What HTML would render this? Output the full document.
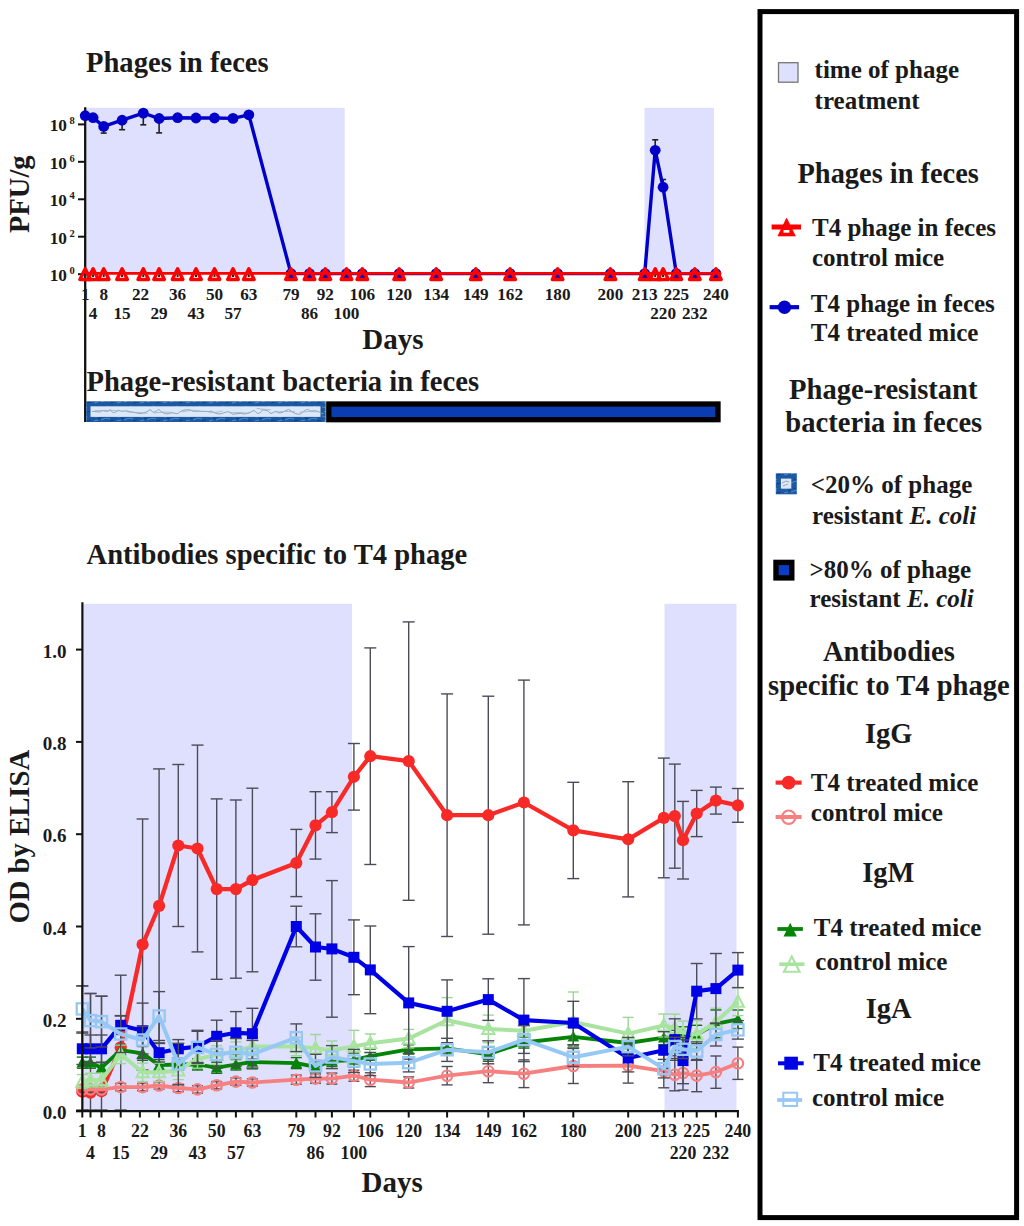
<!DOCTYPE html>
<html><head><meta charset="utf-8"><style>
html,body{margin:0;padding:0;background:#fff;}
svg{display:block;}
</style></head><body>
<svg width="1024" height="1226" viewBox="0 0 1024 1226">
<rect width="1024" height="1226" fill="#fff"/>
<rect x="86.3" y="107.8" width="258.4" height="165.5" fill="#dfdffe"/>
<rect x="644.5" y="107.8" width="69.5" height="165.5" fill="#dfdffe"/>
<text x="86" y="72.3" font-size="28.6" font-family="Liberation Serif" font-weight="bold" fill="#1a1a1a">Phages in feces</text>
<text transform="translate(29.3,233) rotate(-90)" font-size="28.5" font-family="Liberation Serif" font-weight="bold" fill="#1a1a1a">PFU/g</text>
<line x1="78" y1="274.2" x2="85" y2="274.2" stroke="#111" stroke-width="2"/>
<text x="67" y="281.1" font-size="17.3" font-family="Liberation Serif" font-weight="bold" fill="#1a1a1a" text-anchor="end">10</text>
<text x="69.6" y="274.0" font-size="10.5" font-family="Liberation Serif" font-weight="bold" fill="#1a1a1a">0</text>
<line x1="78" y1="236.7" x2="85" y2="236.7" stroke="#111" stroke-width="2"/>
<text x="67" y="243.6" font-size="17.3" font-family="Liberation Serif" font-weight="bold" fill="#1a1a1a" text-anchor="end">10</text>
<text x="69.6" y="236.5" font-size="10.5" font-family="Liberation Serif" font-weight="bold" fill="#1a1a1a">2</text>
<line x1="78" y1="199.3" x2="85" y2="199.3" stroke="#111" stroke-width="2"/>
<text x="67" y="206.2" font-size="17.3" font-family="Liberation Serif" font-weight="bold" fill="#1a1a1a" text-anchor="end">10</text>
<text x="69.6" y="199.1" font-size="10.5" font-family="Liberation Serif" font-weight="bold" fill="#1a1a1a">4</text>
<line x1="78" y1="161.8" x2="85" y2="161.8" stroke="#111" stroke-width="2"/>
<text x="67" y="168.7" font-size="17.3" font-family="Liberation Serif" font-weight="bold" fill="#1a1a1a" text-anchor="end">10</text>
<text x="69.6" y="161.6" font-size="10.5" font-family="Liberation Serif" font-weight="bold" fill="#1a1a1a">6</text>
<line x1="78" y1="124.4" x2="85" y2="124.4" stroke="#111" stroke-width="2"/>
<text x="67" y="131.3" font-size="17.3" font-family="Liberation Serif" font-weight="bold" fill="#1a1a1a" text-anchor="end">10</text>
<text x="69.6" y="124.2" font-size="10.5" font-family="Liberation Serif" font-weight="bold" fill="#1a1a1a">8</text>
<line x1="85.2" y1="107.3" x2="85.2" y2="422" stroke="#111" stroke-width="2.3"/>
<line x1="103.7" y1="126.4" x2="103.7" y2="133.1" stroke="#222" stroke-width="1.6"/>
<line x1="100.7" y1="133.1" x2="106.7" y2="133.1" stroke="#222" stroke-width="1.6"/>
<line x1="122.1" y1="120.2" x2="122.1" y2="129.7" stroke="#222" stroke-width="1.6"/>
<line x1="119.1" y1="129.7" x2="125.1" y2="129.7" stroke="#222" stroke-width="1.6"/>
<line x1="143.3" y1="113.1" x2="143.3" y2="124.8" stroke="#222" stroke-width="1.6"/>
<line x1="140.3" y1="124.8" x2="146.3" y2="124.8" stroke="#222" stroke-width="1.6"/>
<line x1="159.1" y1="118.5" x2="159.1" y2="132.9" stroke="#222" stroke-width="1.6"/>
<line x1="156.1" y1="132.9" x2="162.1" y2="132.9" stroke="#222" stroke-width="1.6"/>
<line x1="655.2" y1="150.3" x2="655.2" y2="139.8" stroke="#222" stroke-width="1.6"/>
<line x1="652.2" y1="139.8" x2="658.2" y2="139.8" stroke="#222" stroke-width="1.6"/>
<line x1="663.1" y1="187.2" x2="663.1" y2="179.5" stroke="#222" stroke-width="1.6"/>
<line x1="660.1" y1="179.5" x2="666.1" y2="179.5" stroke="#222" stroke-width="1.6"/>
<polyline points="85.2,115.7 93.1,117.7 103.7,126.4 122.1,120.2 143.3,113.1 159.1,118.5 177.6,117.7 196.0,118.0 214.5,118.0 233.0,118.4 248.8,114.8 291.0,273.6 309.5,273.6 325.3,273.6 346.5,273.6 362.3,273.6 399.2,273.6 436.2,273.6 475.8,273.6 510.1,273.6 557.6,273.6 610.4,273.6 644.7,273.6 655.2,150.3 663.1,187.2 676.3,273.6 694.8,273.6 715.9,273.6" fill="none" stroke="#0000c8" stroke-width="3.4" stroke-linejoin="round"/>
<circle cx="85.2" cy="115.7" r="5.4" fill="#0000c8"/>
<circle cx="93.1" cy="117.7" r="5.4" fill="#0000c8"/>
<circle cx="103.7" cy="126.4" r="5.4" fill="#0000c8"/>
<circle cx="122.1" cy="120.2" r="5.4" fill="#0000c8"/>
<circle cx="143.3" cy="113.1" r="5.4" fill="#0000c8"/>
<circle cx="159.1" cy="118.5" r="5.4" fill="#0000c8"/>
<circle cx="177.6" cy="117.7" r="5.4" fill="#0000c8"/>
<circle cx="196.0" cy="118.0" r="5.4" fill="#0000c8"/>
<circle cx="214.5" cy="118.0" r="5.4" fill="#0000c8"/>
<circle cx="233.0" cy="118.4" r="5.4" fill="#0000c8"/>
<circle cx="248.8" cy="114.8" r="5.4" fill="#0000c8"/>
<circle cx="291.0" cy="273.6" r="5.4" fill="#0000c8"/>
<circle cx="309.5" cy="273.6" r="5.4" fill="#0000c8"/>
<circle cx="325.3" cy="273.6" r="5.4" fill="#0000c8"/>
<circle cx="346.5" cy="273.6" r="5.4" fill="#0000c8"/>
<circle cx="362.3" cy="273.6" r="5.4" fill="#0000c8"/>
<circle cx="399.2" cy="273.6" r="5.4" fill="#0000c8"/>
<circle cx="436.2" cy="273.6" r="5.4" fill="#0000c8"/>
<circle cx="475.8" cy="273.6" r="5.4" fill="#0000c8"/>
<circle cx="510.1" cy="273.6" r="5.4" fill="#0000c8"/>
<circle cx="557.6" cy="273.6" r="5.4" fill="#0000c8"/>
<circle cx="610.4" cy="273.6" r="5.4" fill="#0000c8"/>
<circle cx="644.7" cy="273.6" r="5.4" fill="#0000c8"/>
<circle cx="655.2" cy="150.3" r="5.4" fill="#0000c8"/>
<circle cx="663.1" cy="187.2" r="5.4" fill="#0000c8"/>
<circle cx="676.3" cy="273.6" r="5.4" fill="#0000c8"/>
<circle cx="694.8" cy="273.6" r="5.4" fill="#0000c8"/>
<circle cx="715.9" cy="273.6" r="5.4" fill="#0000c8"/>
<line x1="85" y1="273.4" x2="721" y2="273.4" stroke="#f00" stroke-width="2.8"/>
<path d="M85.2,268.8 L90.5,279.5 L79.9,279.5 Z" fill="none" stroke="#f00" stroke-width="3.4" stroke-linejoin="round"/>
<rect x="84.2" y="274.6" width="2" height="2.4" fill="#222"/>
<path d="M93.1,268.8 L98.4,279.5 L87.8,279.5 Z" fill="none" stroke="#f00" stroke-width="3.4" stroke-linejoin="round"/>
<rect x="92.1" y="274.6" width="2" height="2.4" fill="#222"/>
<path d="M103.7,268.8 L109.0,279.5 L98.4,279.5 Z" fill="none" stroke="#f00" stroke-width="3.4" stroke-linejoin="round"/>
<rect x="102.7" y="274.6" width="2" height="2.4" fill="#222"/>
<path d="M122.1,268.8 L127.4,279.5 L116.8,279.5 Z" fill="none" stroke="#f00" stroke-width="3.4" stroke-linejoin="round"/>
<rect x="121.1" y="274.6" width="2" height="2.4" fill="#222"/>
<path d="M143.3,268.8 L148.6,279.5 L138.0,279.5 Z" fill="none" stroke="#f00" stroke-width="3.4" stroke-linejoin="round"/>
<rect x="142.3" y="274.6" width="2" height="2.4" fill="#222"/>
<path d="M159.1,268.8 L164.4,279.5 L153.8,279.5 Z" fill="none" stroke="#f00" stroke-width="3.4" stroke-linejoin="round"/>
<rect x="158.1" y="274.6" width="2" height="2.4" fill="#222"/>
<path d="M177.6,268.8 L182.9,279.5 L172.3,279.5 Z" fill="none" stroke="#f00" stroke-width="3.4" stroke-linejoin="round"/>
<rect x="176.6" y="274.6" width="2" height="2.4" fill="#222"/>
<path d="M196.0,268.8 L201.3,279.5 L190.7,279.5 Z" fill="none" stroke="#f00" stroke-width="3.4" stroke-linejoin="round"/>
<rect x="195.0" y="274.6" width="2" height="2.4" fill="#222"/>
<path d="M214.5,268.8 L219.8,279.5 L209.2,279.5 Z" fill="none" stroke="#f00" stroke-width="3.4" stroke-linejoin="round"/>
<rect x="213.5" y="274.6" width="2" height="2.4" fill="#222"/>
<path d="M233.0,268.8 L238.3,279.5 L227.7,279.5 Z" fill="none" stroke="#f00" stroke-width="3.4" stroke-linejoin="round"/>
<rect x="232.0" y="274.6" width="2" height="2.4" fill="#222"/>
<path d="M248.8,268.8 L254.1,279.5 L243.5,279.5 Z" fill="none" stroke="#f00" stroke-width="3.4" stroke-linejoin="round"/>
<rect x="247.8" y="274.6" width="2" height="2.4" fill="#222"/>
<path d="M291.0,268.8 L296.3,279.5 L285.7,279.5 Z" fill="none" stroke="#f00" stroke-width="3.4" stroke-linejoin="round"/>
<path d="M309.5,268.8 L314.8,279.5 L304.2,279.5 Z" fill="none" stroke="#f00" stroke-width="3.4" stroke-linejoin="round"/>
<path d="M325.3,268.8 L330.6,279.5 L320.0,279.5 Z" fill="none" stroke="#f00" stroke-width="3.4" stroke-linejoin="round"/>
<path d="M346.5,268.8 L351.8,279.5 L341.2,279.5 Z" fill="none" stroke="#f00" stroke-width="3.4" stroke-linejoin="round"/>
<path d="M362.3,268.8 L367.6,279.5 L357.0,279.5 Z" fill="none" stroke="#f00" stroke-width="3.4" stroke-linejoin="round"/>
<path d="M399.2,268.8 L404.5,279.5 L393.9,279.5 Z" fill="none" stroke="#f00" stroke-width="3.4" stroke-linejoin="round"/>
<path d="M436.2,268.8 L441.5,279.5 L430.9,279.5 Z" fill="none" stroke="#f00" stroke-width="3.4" stroke-linejoin="round"/>
<path d="M475.8,268.8 L481.1,279.5 L470.5,279.5 Z" fill="none" stroke="#f00" stroke-width="3.4" stroke-linejoin="round"/>
<path d="M510.1,268.8 L515.4,279.5 L504.8,279.5 Z" fill="none" stroke="#f00" stroke-width="3.4" stroke-linejoin="round"/>
<path d="M557.6,268.8 L562.9,279.5 L552.3,279.5 Z" fill="none" stroke="#f00" stroke-width="3.4" stroke-linejoin="round"/>
<path d="M610.4,268.8 L615.7,279.5 L605.1,279.5 Z" fill="none" stroke="#f00" stroke-width="3.4" stroke-linejoin="round"/>
<path d="M644.7,268.8 L650.0,279.5 L639.4,279.5 Z" fill="none" stroke="#f00" stroke-width="3.4" stroke-linejoin="round"/>
<path d="M655.2,268.8 L660.5,279.5 L649.9,279.5 Z" fill="none" stroke="#f00" stroke-width="3.4" stroke-linejoin="round"/>
<rect x="654.2" y="274.6" width="2" height="2.4" fill="#222"/>
<path d="M663.1,268.8 L668.4,279.5 L657.8,279.5 Z" fill="none" stroke="#f00" stroke-width="3.4" stroke-linejoin="round"/>
<rect x="662.1" y="274.6" width="2" height="2.4" fill="#222"/>
<path d="M676.3,268.8 L681.6,279.5 L671.0,279.5 Z" fill="none" stroke="#f00" stroke-width="3.4" stroke-linejoin="round"/>
<path d="M694.8,268.8 L700.1,279.5 L689.5,279.5 Z" fill="none" stroke="#f00" stroke-width="3.4" stroke-linejoin="round"/>
<path d="M715.9,268.8 L721.2,279.5 L710.6,279.5 Z" fill="none" stroke="#f00" stroke-width="3.4" stroke-linejoin="round"/>
<text x="85.2" y="299.8" font-size="17.2" font-family="Liberation Serif" font-weight="bold" fill="#1a1a1a" text-anchor="middle">1</text>
<text x="103.7" y="299.8" font-size="17.2" font-family="Liberation Serif" font-weight="bold" fill="#1a1a1a" text-anchor="middle">8</text>
<text x="140.6" y="299.8" font-size="17.2" font-family="Liberation Serif" font-weight="bold" fill="#1a1a1a" text-anchor="middle">22</text>
<text x="177.6" y="299.8" font-size="17.2" font-family="Liberation Serif" font-weight="bold" fill="#1a1a1a" text-anchor="middle">36</text>
<text x="214.5" y="299.8" font-size="17.2" font-family="Liberation Serif" font-weight="bold" fill="#1a1a1a" text-anchor="middle">50</text>
<text x="248.8" y="299.8" font-size="17.2" font-family="Liberation Serif" font-weight="bold" fill="#1a1a1a" text-anchor="middle">63</text>
<text x="291.0" y="299.8" font-size="17.2" font-family="Liberation Serif" font-weight="bold" fill="#1a1a1a" text-anchor="middle">79</text>
<text x="325.3" y="299.8" font-size="17.2" font-family="Liberation Serif" font-weight="bold" fill="#1a1a1a" text-anchor="middle">92</text>
<text x="362.3" y="299.8" font-size="17.2" font-family="Liberation Serif" font-weight="bold" fill="#1a1a1a" text-anchor="middle">106</text>
<text x="399.2" y="299.8" font-size="17.2" font-family="Liberation Serif" font-weight="bold" fill="#1a1a1a" text-anchor="middle">120</text>
<text x="436.2" y="299.8" font-size="17.2" font-family="Liberation Serif" font-weight="bold" fill="#1a1a1a" text-anchor="middle">134</text>
<text x="475.8" y="299.8" font-size="17.2" font-family="Liberation Serif" font-weight="bold" fill="#1a1a1a" text-anchor="middle">149</text>
<text x="510.1" y="299.8" font-size="17.2" font-family="Liberation Serif" font-weight="bold" fill="#1a1a1a" text-anchor="middle">162</text>
<text x="557.6" y="299.8" font-size="17.2" font-family="Liberation Serif" font-weight="bold" fill="#1a1a1a" text-anchor="middle">180</text>
<text x="610.4" y="299.8" font-size="17.2" font-family="Liberation Serif" font-weight="bold" fill="#1a1a1a" text-anchor="middle">200</text>
<text x="644.7" y="299.8" font-size="17.2" font-family="Liberation Serif" font-weight="bold" fill="#1a1a1a" text-anchor="middle">213</text>
<text x="676.3" y="299.8" font-size="17.2" font-family="Liberation Serif" font-weight="bold" fill="#1a1a1a" text-anchor="middle">225</text>
<text x="715.9" y="299.8" font-size="17.2" font-family="Liberation Serif" font-weight="bold" fill="#1a1a1a" text-anchor="middle">240</text>
<text x="93.1" y="319.3" font-size="17.2" font-family="Liberation Serif" font-weight="bold" fill="#1a1a1a" text-anchor="middle">4</text>
<text x="122.1" y="319.3" font-size="17.2" font-family="Liberation Serif" font-weight="bold" fill="#1a1a1a" text-anchor="middle">15</text>
<text x="159.1" y="319.3" font-size="17.2" font-family="Liberation Serif" font-weight="bold" fill="#1a1a1a" text-anchor="middle">29</text>
<text x="196.0" y="319.3" font-size="17.2" font-family="Liberation Serif" font-weight="bold" fill="#1a1a1a" text-anchor="middle">43</text>
<text x="233.0" y="319.3" font-size="17.2" font-family="Liberation Serif" font-weight="bold" fill="#1a1a1a" text-anchor="middle">57</text>
<text x="309.5" y="319.3" font-size="17.2" font-family="Liberation Serif" font-weight="bold" fill="#1a1a1a" text-anchor="middle">86</text>
<text x="346.5" y="319.3" font-size="17.2" font-family="Liberation Serif" font-weight="bold" fill="#1a1a1a" text-anchor="middle">100</text>
<text x="663.1" y="319.3" font-size="17.2" font-family="Liberation Serif" font-weight="bold" fill="#1a1a1a" text-anchor="middle">220</text>
<text x="694.8" y="319.3" font-size="17.2" font-family="Liberation Serif" font-weight="bold" fill="#1a1a1a" text-anchor="middle">232</text>
<text x="362.2" y="348.6" font-size="29" font-family="Liberation Serif" font-weight="bold" fill="#1a1a1a">Days</text>
<text x="86.5" y="391" font-size="28.6" font-family="Liberation Serif" font-weight="bold" fill="#1a1a1a">Phage-resistant bacteria in feces</text>
<defs><pattern id="mott" x="0" y="0" width="23" height="9" patternUnits="userSpaceOnUse"><rect width="23" height="9" fill="#1d58a2"/><path d="M0,2 l4,1 l3,-1 M9,6 l5,-2 l4,1 M15,1 l3,2 M2,7 l4,-1" stroke="#4c86c6" stroke-width="1.1" fill="none"/><path d="M6,4 l3,1 M18,7 l4,-1 M12,2 l2,1" stroke="#0f3f80" stroke-width="1" fill="none"/></pattern></defs>
<rect x="86.2" y="401.3" width="239.5" height="20.7" fill="url(#mott)"/>
<rect x="90.5" y="406.3" width="230" height="10.6" fill="#dbe9f8"/>
<path d="M92.0,411.5 C94.7,410.9 97.4,412.4 100.2,411.9 C103.5,408.6 106.9,413.9 110.3,409.5 C113.1,415.0 115.8,411.6 118.6,410.4 C122.3,412.7 126.0,409.5 129.8,411.6 C133.2,411.9 136.5,413.3 140.0,413.5 C143.4,413.4 146.8,412.3 150.3,409.5 C153.1,414.1 155.9,411.6 158.8,409.4 C162.3,413.1 165.8,414.5 169.4,413.6 C172.4,411.4 175.4,414.6 178.4,413.2 C182.2,409.4 185.9,409.9 189.8,409.7 C193.7,412.6 197.6,410.5 201.6,411.4 C204.8,410.8 207.9,412.3 211.2,411.1 C214.4,412.9 217.7,414.5 221.1,413.7 C224.8,412.9 228.5,409.6 232.4,414.2 C236.1,414.4 239.8,412.2 243.7,414.0 C247.2,413.9 250.6,412.2 254.2,410.3 C257.0,414.1 259.8,414.9 262.7,409.5 C265.1,411.2 267.6,409.5 270.1,413.2 C272.9,414.2 275.7,408.8 278.6,413.0 C281.9,413.2 285.2,410.7 288.6,409.4 C292.4,411.8 296.2,415.0 300.1,414.1 C302.9,412.4 305.7,408.7 308.6,409.6 C311.2,412.5 313.9,409.5 316.6,411.2 C319.0,410.5 321.3,414.7 323.8,413.5" fill="none" stroke="#8c98ac" stroke-width="0.9"/>
<path d="M95.0,410.6 q12.4,-0.2 24.8,0.1 M126.6,411.9 q10.6,0.7 21.1,1.3 M153.8,413.0 q9.6,-1.6 19.2,-0.6 M181.9,411.8 q10.1,-2.9 20.3,-0.3 M208.6,412.3 q7.1,0.8 14.2,-1.3 M229.6,412.8 q9.8,-0.9 19.6,0.6 M256.6,408.4 q7.1,1.1 14.3,1.4 M275.4,412.1 q9.7,-1.1 19.5,-0.4 M299.7,412.2 q9.2,-1.2 18.4,-0.4 " fill="none" stroke="#a4b0c2" stroke-width="0.8"/>
<rect x="328.8" y="404" width="389.2" height="15.7" fill="#0b3cb2" stroke="#000" stroke-width="5.3"/>
<rect x="83.5" y="603.8" width="268.5" height="506.3" fill="#dfdffe"/>
<rect x="664.5" y="603.8" width="72" height="506.3" fill="#dfdffe"/>
<text x="86.5" y="563.5" font-size="28.6" font-family="Liberation Serif" font-weight="bold" fill="#1a1a1a">Antibodies specific to T4 phage</text>
<text transform="translate(29,923.6) rotate(-90)" font-size="28.7" font-family="Liberation Serif" font-weight="bold" fill="#1a1a1a">OD by ELISA</text>
<line x1="76" y1="1111.1" x2="82" y2="1111.1" stroke="#111" stroke-width="2"/>
<text x="66.4" y="1119.3" font-size="19" font-family="Liberation Serif" font-weight="bold" fill="#1a1a1a" text-anchor="end">0.0</text>
<line x1="76" y1="1018.8" x2="82" y2="1018.8" stroke="#111" stroke-width="2"/>
<text x="66.4" y="1027.0" font-size="19" font-family="Liberation Serif" font-weight="bold" fill="#1a1a1a" text-anchor="end">0.2</text>
<line x1="76" y1="926.5" x2="82" y2="926.5" stroke="#111" stroke-width="2"/>
<text x="66.4" y="934.7" font-size="19" font-family="Liberation Serif" font-weight="bold" fill="#1a1a1a" text-anchor="end">0.4</text>
<line x1="76" y1="834.2" x2="82" y2="834.2" stroke="#111" stroke-width="2"/>
<text x="66.4" y="842.4" font-size="19" font-family="Liberation Serif" font-weight="bold" fill="#1a1a1a" text-anchor="end">0.6</text>
<line x1="76" y1="741.9" x2="82" y2="741.9" stroke="#111" stroke-width="2"/>
<text x="66.4" y="750.1" font-size="19" font-family="Liberation Serif" font-weight="bold" fill="#1a1a1a" text-anchor="end">0.8</text>
<line x1="76" y1="649.6" x2="82" y2="649.6" stroke="#111" stroke-width="2"/>
<text x="66.4" y="657.8" font-size="19" font-family="Liberation Serif" font-weight="bold" fill="#1a1a1a" text-anchor="end">1.0</text>
<line x1="82.3" y1="1111" x2="82.3" y2="1117.5" stroke="#111" stroke-width="2"/>
<line x1="90.5" y1="1111" x2="90.5" y2="1117.5" stroke="#111" stroke-width="2"/>
<line x1="101.5" y1="1111" x2="101.5" y2="1117.5" stroke="#111" stroke-width="2"/>
<line x1="120.7" y1="1111" x2="120.7" y2="1117.5" stroke="#111" stroke-width="2"/>
<line x1="139.9" y1="1111" x2="139.9" y2="1117.5" stroke="#111" stroke-width="2"/>
<line x1="159.1" y1="1111" x2="159.1" y2="1117.5" stroke="#111" stroke-width="2"/>
<line x1="178.3" y1="1111" x2="178.3" y2="1117.5" stroke="#111" stroke-width="2"/>
<line x1="197.5" y1="1111" x2="197.5" y2="1117.5" stroke="#111" stroke-width="2"/>
<line x1="216.7" y1="1111" x2="216.7" y2="1117.5" stroke="#111" stroke-width="2"/>
<line x1="235.9" y1="1111" x2="235.9" y2="1117.5" stroke="#111" stroke-width="2"/>
<line x1="252.4" y1="1111" x2="252.4" y2="1117.5" stroke="#111" stroke-width="2"/>
<line x1="296.3" y1="1111" x2="296.3" y2="1117.5" stroke="#111" stroke-width="2"/>
<line x1="315.5" y1="1111" x2="315.5" y2="1117.5" stroke="#111" stroke-width="2"/>
<line x1="331.9" y1="1111" x2="331.9" y2="1117.5" stroke="#111" stroke-width="2"/>
<line x1="353.9" y1="1111" x2="353.9" y2="1117.5" stroke="#111" stroke-width="2"/>
<line x1="370.3" y1="1111" x2="370.3" y2="1117.5" stroke="#111" stroke-width="2"/>
<line x1="408.7" y1="1111" x2="408.7" y2="1117.5" stroke="#111" stroke-width="2"/>
<line x1="447.1" y1="1111" x2="447.1" y2="1117.5" stroke="#111" stroke-width="2"/>
<line x1="488.3" y1="1111" x2="488.3" y2="1117.5" stroke="#111" stroke-width="2"/>
<line x1="523.9" y1="1111" x2="523.9" y2="1117.5" stroke="#111" stroke-width="2"/>
<line x1="573.3" y1="1111" x2="573.3" y2="1117.5" stroke="#111" stroke-width="2"/>
<line x1="628.2" y1="1111" x2="628.2" y2="1117.5" stroke="#111" stroke-width="2"/>
<line x1="663.8" y1="1111" x2="663.8" y2="1117.5" stroke="#111" stroke-width="2"/>
<line x1="674.8" y1="1111" x2="674.8" y2="1117.5" stroke="#111" stroke-width="2"/>
<line x1="683.0" y1="1111" x2="683.0" y2="1117.5" stroke="#111" stroke-width="2"/>
<line x1="696.7" y1="1111" x2="696.7" y2="1117.5" stroke="#111" stroke-width="2"/>
<line x1="715.9" y1="1111" x2="715.9" y2="1117.5" stroke="#111" stroke-width="2"/>
<line x1="737.9" y1="1111" x2="737.9" y2="1117.5" stroke="#111" stroke-width="2"/>
<text x="82.3" y="1137" font-size="17.8" font-family="Liberation Serif" font-weight="bold" fill="#1a1a1a" text-anchor="middle">1</text>
<text x="101.5" y="1137" font-size="17.8" font-family="Liberation Serif" font-weight="bold" fill="#1a1a1a" text-anchor="middle">8</text>
<text x="139.9" y="1137" font-size="17.8" font-family="Liberation Serif" font-weight="bold" fill="#1a1a1a" text-anchor="middle">22</text>
<text x="178.3" y="1137" font-size="17.8" font-family="Liberation Serif" font-weight="bold" fill="#1a1a1a" text-anchor="middle">36</text>
<text x="216.7" y="1137" font-size="17.8" font-family="Liberation Serif" font-weight="bold" fill="#1a1a1a" text-anchor="middle">50</text>
<text x="252.4" y="1137" font-size="17.8" font-family="Liberation Serif" font-weight="bold" fill="#1a1a1a" text-anchor="middle">63</text>
<text x="296.3" y="1137" font-size="17.8" font-family="Liberation Serif" font-weight="bold" fill="#1a1a1a" text-anchor="middle">79</text>
<text x="331.9" y="1137" font-size="17.8" font-family="Liberation Serif" font-weight="bold" fill="#1a1a1a" text-anchor="middle">92</text>
<text x="370.3" y="1137" font-size="17.8" font-family="Liberation Serif" font-weight="bold" fill="#1a1a1a" text-anchor="middle">106</text>
<text x="408.7" y="1137" font-size="17.8" font-family="Liberation Serif" font-weight="bold" fill="#1a1a1a" text-anchor="middle">120</text>
<text x="447.1" y="1137" font-size="17.8" font-family="Liberation Serif" font-weight="bold" fill="#1a1a1a" text-anchor="middle">134</text>
<text x="488.3" y="1137" font-size="17.8" font-family="Liberation Serif" font-weight="bold" fill="#1a1a1a" text-anchor="middle">149</text>
<text x="523.9" y="1137" font-size="17.8" font-family="Liberation Serif" font-weight="bold" fill="#1a1a1a" text-anchor="middle">162</text>
<text x="573.3" y="1137" font-size="17.8" font-family="Liberation Serif" font-weight="bold" fill="#1a1a1a" text-anchor="middle">180</text>
<text x="628.2" y="1137" font-size="17.8" font-family="Liberation Serif" font-weight="bold" fill="#1a1a1a" text-anchor="middle">200</text>
<text x="663.8" y="1137" font-size="17.8" font-family="Liberation Serif" font-weight="bold" fill="#1a1a1a" text-anchor="middle">213</text>
<text x="696.7" y="1137" font-size="17.8" font-family="Liberation Serif" font-weight="bold" fill="#1a1a1a" text-anchor="middle">225</text>
<text x="737.9" y="1137" font-size="17.8" font-family="Liberation Serif" font-weight="bold" fill="#1a1a1a" text-anchor="middle">240</text>
<text x="90.5" y="1158.8" font-size="17.8" font-family="Liberation Serif" font-weight="bold" fill="#1a1a1a" text-anchor="middle">4</text>
<text x="120.7" y="1158.8" font-size="17.8" font-family="Liberation Serif" font-weight="bold" fill="#1a1a1a" text-anchor="middle">15</text>
<text x="159.1" y="1158.8" font-size="17.8" font-family="Liberation Serif" font-weight="bold" fill="#1a1a1a" text-anchor="middle">29</text>
<text x="197.5" y="1158.8" font-size="17.8" font-family="Liberation Serif" font-weight="bold" fill="#1a1a1a" text-anchor="middle">43</text>
<text x="235.9" y="1158.8" font-size="17.8" font-family="Liberation Serif" font-weight="bold" fill="#1a1a1a" text-anchor="middle">57</text>
<text x="315.5" y="1158.8" font-size="17.8" font-family="Liberation Serif" font-weight="bold" fill="#1a1a1a" text-anchor="middle">86</text>
<text x="353.9" y="1158.8" font-size="17.8" font-family="Liberation Serif" font-weight="bold" fill="#1a1a1a" text-anchor="middle">100</text>
<text x="683.0" y="1158.8" font-size="17.8" font-family="Liberation Serif" font-weight="bold" fill="#1a1a1a" text-anchor="middle">220</text>
<text x="715.9" y="1158.8" font-size="17.8" font-family="Liberation Serif" font-weight="bold" fill="#1a1a1a" text-anchor="middle">232</text>
<text x="361.6" y="1191.6" font-size="29" font-family="Liberation Serif" font-weight="bold" fill="#1a1a1a">Days</text>
<line x1="82.3" y1="986.0" x2="82.3" y2="1110.0" stroke="#4c4c58" stroke-width="1.4"/>
<line x1="76.3" y1="986.0" x2="88.3" y2="986.0" stroke="#4c4c58" stroke-width="1.4"/>
<line x1="76.3" y1="1110.0" x2="88.3" y2="1110.0" stroke="#4c4c58" stroke-width="1.4"/>
<line x1="90.5" y1="993.6" x2="90.5" y2="1110.0" stroke="#4c4c58" stroke-width="1.4"/>
<line x1="84.5" y1="993.6" x2="96.5" y2="993.6" stroke="#4c4c58" stroke-width="1.4"/>
<line x1="84.5" y1="1110.0" x2="96.5" y2="1110.0" stroke="#4c4c58" stroke-width="1.4"/>
<line x1="101.5" y1="996.2" x2="101.5" y2="1110.0" stroke="#4c4c58" stroke-width="1.4"/>
<line x1="95.5" y1="996.2" x2="107.5" y2="996.2" stroke="#4c4c58" stroke-width="1.4"/>
<line x1="95.5" y1="1110.0" x2="107.5" y2="1110.0" stroke="#4c4c58" stroke-width="1.4"/>
<line x1="120.7" y1="975.2" x2="120.7" y2="1110.0" stroke="#4c4c58" stroke-width="1.4"/>
<line x1="114.7" y1="975.2" x2="126.7" y2="975.2" stroke="#4c4c58" stroke-width="1.4"/>
<line x1="114.7" y1="1110.0" x2="126.7" y2="1110.0" stroke="#4c4c58" stroke-width="1.4"/>
<line x1="142.6" y1="819.0" x2="142.6" y2="1070.0" stroke="#4c4c58" stroke-width="1.4"/>
<line x1="136.6" y1="819.0" x2="148.6" y2="819.0" stroke="#4c4c58" stroke-width="1.4"/>
<line x1="136.6" y1="1070.0" x2="148.6" y2="1070.0" stroke="#4c4c58" stroke-width="1.4"/>
<line x1="159.1" y1="768.9" x2="159.1" y2="1042.9" stroke="#4c4c58" stroke-width="1.4"/>
<line x1="153.1" y1="768.9" x2="165.1" y2="768.9" stroke="#4c4c58" stroke-width="1.4"/>
<line x1="153.1" y1="1042.9" x2="165.1" y2="1042.9" stroke="#4c4c58" stroke-width="1.4"/>
<line x1="178.3" y1="764.5" x2="178.3" y2="926.5" stroke="#4c4c58" stroke-width="1.4"/>
<line x1="172.3" y1="764.5" x2="184.3" y2="764.5" stroke="#4c4c58" stroke-width="1.4"/>
<line x1="172.3" y1="926.5" x2="184.3" y2="926.5" stroke="#4c4c58" stroke-width="1.4"/>
<line x1="197.5" y1="745.1" x2="197.5" y2="951.9" stroke="#4c4c58" stroke-width="1.4"/>
<line x1="191.5" y1="745.1" x2="203.5" y2="745.1" stroke="#4c4c58" stroke-width="1.4"/>
<line x1="191.5" y1="951.9" x2="203.5" y2="951.9" stroke="#4c4c58" stroke-width="1.4"/>
<line x1="216.7" y1="798.9" x2="216.7" y2="979.3" stroke="#4c4c58" stroke-width="1.4"/>
<line x1="210.7" y1="798.9" x2="222.7" y2="798.9" stroke="#4c4c58" stroke-width="1.4"/>
<line x1="210.7" y1="979.3" x2="222.7" y2="979.3" stroke="#4c4c58" stroke-width="1.4"/>
<line x1="235.9" y1="800.0" x2="235.9" y2="978.2" stroke="#4c4c58" stroke-width="1.4"/>
<line x1="229.9" y1="800.0" x2="241.9" y2="800.0" stroke="#4c4c58" stroke-width="1.4"/>
<line x1="229.9" y1="978.2" x2="241.9" y2="978.2" stroke="#4c4c58" stroke-width="1.4"/>
<line x1="252.4" y1="788.2" x2="252.4" y2="971.8" stroke="#4c4c58" stroke-width="1.4"/>
<line x1="246.4" y1="788.2" x2="258.4" y2="788.2" stroke="#4c4c58" stroke-width="1.4"/>
<line x1="246.4" y1="971.8" x2="258.4" y2="971.8" stroke="#4c4c58" stroke-width="1.4"/>
<line x1="296.3" y1="829.4" x2="296.3" y2="896.6" stroke="#4c4c58" stroke-width="1.4"/>
<line x1="290.3" y1="829.4" x2="302.3" y2="829.4" stroke="#4c4c58" stroke-width="1.4"/>
<line x1="290.3" y1="896.6" x2="302.3" y2="896.6" stroke="#4c4c58" stroke-width="1.4"/>
<line x1="315.5" y1="791.7" x2="315.5" y2="859.1" stroke="#4c4c58" stroke-width="1.4"/>
<line x1="309.5" y1="791.7" x2="321.5" y2="791.7" stroke="#4c4c58" stroke-width="1.4"/>
<line x1="309.5" y1="859.1" x2="321.5" y2="859.1" stroke="#4c4c58" stroke-width="1.4"/>
<line x1="331.9" y1="791.7" x2="331.9" y2="832.6" stroke="#4c4c58" stroke-width="1.4"/>
<line x1="325.9" y1="791.7" x2="337.9" y2="791.7" stroke="#4c4c58" stroke-width="1.4"/>
<line x1="325.9" y1="832.6" x2="337.9" y2="832.6" stroke="#4c4c58" stroke-width="1.4"/>
<line x1="353.9" y1="743.5" x2="353.9" y2="810.1" stroke="#4c4c58" stroke-width="1.4"/>
<line x1="347.9" y1="743.5" x2="359.9" y2="743.5" stroke="#4c4c58" stroke-width="1.4"/>
<line x1="347.9" y1="810.1" x2="359.9" y2="810.1" stroke="#4c4c58" stroke-width="1.4"/>
<line x1="370.3" y1="647.9" x2="370.3" y2="864.5" stroke="#4c4c58" stroke-width="1.4"/>
<line x1="364.3" y1="647.9" x2="376.3" y2="647.9" stroke="#4c4c58" stroke-width="1.4"/>
<line x1="364.3" y1="864.5" x2="376.3" y2="864.5" stroke="#4c4c58" stroke-width="1.4"/>
<line x1="408.7" y1="621.9" x2="408.7" y2="900.3" stroke="#4c4c58" stroke-width="1.4"/>
<line x1="402.7" y1="621.9" x2="414.7" y2="621.9" stroke="#4c4c58" stroke-width="1.4"/>
<line x1="402.7" y1="900.3" x2="414.7" y2="900.3" stroke="#4c4c58" stroke-width="1.4"/>
<line x1="447.1" y1="693.9" x2="447.1" y2="936.5" stroke="#4c4c58" stroke-width="1.4"/>
<line x1="441.1" y1="693.9" x2="453.1" y2="693.9" stroke="#4c4c58" stroke-width="1.4"/>
<line x1="441.1" y1="936.5" x2="453.1" y2="936.5" stroke="#4c4c58" stroke-width="1.4"/>
<line x1="488.3" y1="696.2" x2="488.3" y2="934.2" stroke="#4c4c58" stroke-width="1.4"/>
<line x1="482.3" y1="696.2" x2="494.3" y2="696.2" stroke="#4c4c58" stroke-width="1.4"/>
<line x1="482.3" y1="934.2" x2="494.3" y2="934.2" stroke="#4c4c58" stroke-width="1.4"/>
<line x1="523.9" y1="680.1" x2="523.9" y2="924.9" stroke="#4c4c58" stroke-width="1.4"/>
<line x1="517.9" y1="680.1" x2="529.9" y2="680.1" stroke="#4c4c58" stroke-width="1.4"/>
<line x1="517.9" y1="924.9" x2="529.9" y2="924.9" stroke="#4c4c58" stroke-width="1.4"/>
<line x1="573.3" y1="782.3" x2="573.3" y2="878.6" stroke="#4c4c58" stroke-width="1.4"/>
<line x1="567.3" y1="782.3" x2="579.3" y2="782.3" stroke="#4c4c58" stroke-width="1.4"/>
<line x1="567.3" y1="878.6" x2="579.3" y2="878.6" stroke="#4c4c58" stroke-width="1.4"/>
<line x1="628.2" y1="781.7" x2="628.2" y2="896.9" stroke="#4c4c58" stroke-width="1.4"/>
<line x1="622.2" y1="781.7" x2="634.2" y2="781.7" stroke="#4c4c58" stroke-width="1.4"/>
<line x1="622.2" y1="896.9" x2="634.2" y2="896.9" stroke="#4c4c58" stroke-width="1.4"/>
<line x1="663.8" y1="758.1" x2="663.8" y2="877.8" stroke="#4c4c58" stroke-width="1.4"/>
<line x1="657.8" y1="758.1" x2="669.8" y2="758.1" stroke="#4c4c58" stroke-width="1.4"/>
<line x1="657.8" y1="877.8" x2="669.8" y2="877.8" stroke="#4c4c58" stroke-width="1.4"/>
<line x1="674.8" y1="764.1" x2="674.8" y2="868.2" stroke="#4c4c58" stroke-width="1.4"/>
<line x1="668.8" y1="764.1" x2="680.8" y2="764.1" stroke="#4c4c58" stroke-width="1.4"/>
<line x1="668.8" y1="868.2" x2="680.8" y2="868.2" stroke="#4c4c58" stroke-width="1.4"/>
<line x1="683.0" y1="801.4" x2="683.0" y2="879.0" stroke="#4c4c58" stroke-width="1.4"/>
<line x1="677.0" y1="801.4" x2="689.0" y2="801.4" stroke="#4c4c58" stroke-width="1.4"/>
<line x1="677.0" y1="879.0" x2="689.0" y2="879.0" stroke="#4c4c58" stroke-width="1.4"/>
<line x1="696.7" y1="790.4" x2="696.7" y2="836.6" stroke="#4c4c58" stroke-width="1.4"/>
<line x1="690.7" y1="790.4" x2="702.7" y2="790.4" stroke="#4c4c58" stroke-width="1.4"/>
<line x1="690.7" y1="836.6" x2="702.7" y2="836.6" stroke="#4c4c58" stroke-width="1.4"/>
<line x1="715.9" y1="787.1" x2="715.9" y2="814.1" stroke="#4c4c58" stroke-width="1.4"/>
<line x1="709.9" y1="787.1" x2="721.9" y2="787.1" stroke="#4c4c58" stroke-width="1.4"/>
<line x1="709.9" y1="814.1" x2="721.9" y2="814.1" stroke="#4c4c58" stroke-width="1.4"/>
<line x1="737.9" y1="788.5" x2="737.9" y2="822.3" stroke="#4c4c58" stroke-width="1.4"/>
<line x1="731.9" y1="788.5" x2="743.9" y2="788.5" stroke="#4c4c58" stroke-width="1.4"/>
<line x1="731.9" y1="822.3" x2="743.9" y2="822.3" stroke="#4c4c58" stroke-width="1.4"/>
<polyline points="82.3,1091.7 90.5,1092.6 101.5,1091.3 120.7,1047.4 142.6,944.5 159.1,905.9 178.3,845.5 197.5,848.5 216.7,889.1 235.9,889.1 252.4,880.0 296.3,863.0 315.5,825.4 331.9,812.2 353.9,776.8 370.3,756.2 408.7,761.1 447.1,815.2 488.3,815.2 523.9,802.5 573.3,830.4 628.2,839.3 663.8,817.9 674.8,816.1 683.0,840.2 696.7,813.5 715.9,800.6 737.9,805.4" fill="none" stroke="#f82a28" stroke-width="4.3" stroke-linejoin="round"/>
<circle cx="82.3" cy="1091.7" r="6.1" fill="#f82a28"/>
<circle cx="90.5" cy="1092.6" r="6.1" fill="#f82a28"/>
<circle cx="101.5" cy="1091.3" r="6.1" fill="#f82a28"/>
<circle cx="120.7" cy="1047.4" r="6.1" fill="#f82a28"/>
<circle cx="142.6" cy="944.5" r="6.1" fill="#f82a28"/>
<circle cx="159.1" cy="905.9" r="6.1" fill="#f82a28"/>
<circle cx="178.3" cy="845.5" r="6.1" fill="#f82a28"/>
<circle cx="197.5" cy="848.5" r="6.1" fill="#f82a28"/>
<circle cx="216.7" cy="889.1" r="6.1" fill="#f82a28"/>
<circle cx="235.9" cy="889.1" r="6.1" fill="#f82a28"/>
<circle cx="252.4" cy="880.0" r="6.1" fill="#f82a28"/>
<circle cx="296.3" cy="863.0" r="6.1" fill="#f82a28"/>
<circle cx="315.5" cy="825.4" r="6.1" fill="#f82a28"/>
<circle cx="331.9" cy="812.2" r="6.1" fill="#f82a28"/>
<circle cx="353.9" cy="776.8" r="6.1" fill="#f82a28"/>
<circle cx="370.3" cy="756.2" r="6.1" fill="#f82a28"/>
<circle cx="408.7" cy="761.1" r="6.1" fill="#f82a28"/>
<circle cx="447.1" cy="815.2" r="6.1" fill="#f82a28"/>
<circle cx="488.3" cy="815.2" r="6.1" fill="#f82a28"/>
<circle cx="523.9" cy="802.5" r="6.1" fill="#f82a28"/>
<circle cx="573.3" cy="830.4" r="6.1" fill="#f82a28"/>
<circle cx="628.2" cy="839.3" r="6.1" fill="#f82a28"/>
<circle cx="663.8" cy="817.9" r="6.1" fill="#f82a28"/>
<circle cx="674.8" cy="816.1" r="6.1" fill="#f82a28"/>
<circle cx="683.0" cy="840.2" r="6.1" fill="#f82a28"/>
<circle cx="696.7" cy="813.5" r="6.1" fill="#f82a28"/>
<circle cx="715.9" cy="800.6" r="6.1" fill="#f82a28"/>
<circle cx="737.9" cy="805.4" r="6.1" fill="#f82a28"/>
<line x1="82.3" y1="1085.7" x2="82.3" y2="1093.1" stroke="#4c4c58" stroke-width="1.4"/>
<line x1="76.8" y1="1085.7" x2="87.8" y2="1085.7" stroke="#4c4c58" stroke-width="1.4"/>
<line x1="76.8" y1="1093.1" x2="87.8" y2="1093.1" stroke="#4c4c58" stroke-width="1.4"/>
<line x1="90.5" y1="1085.7" x2="90.5" y2="1093.1" stroke="#4c4c58" stroke-width="1.4"/>
<line x1="85.0" y1="1085.7" x2="96.0" y2="1085.7" stroke="#4c4c58" stroke-width="1.4"/>
<line x1="85.0" y1="1093.1" x2="96.0" y2="1093.1" stroke="#4c4c58" stroke-width="1.4"/>
<line x1="101.5" y1="1085.7" x2="101.5" y2="1093.1" stroke="#4c4c58" stroke-width="1.4"/>
<line x1="96.0" y1="1085.7" x2="107.0" y2="1085.7" stroke="#4c4c58" stroke-width="1.4"/>
<line x1="96.0" y1="1093.1" x2="107.0" y2="1093.1" stroke="#4c4c58" stroke-width="1.4"/>
<line x1="120.7" y1="1083.4" x2="120.7" y2="1090.8" stroke="#4c4c58" stroke-width="1.4"/>
<line x1="115.2" y1="1083.4" x2="126.2" y2="1083.4" stroke="#4c4c58" stroke-width="1.4"/>
<line x1="115.2" y1="1090.8" x2="126.2" y2="1090.8" stroke="#4c4c58" stroke-width="1.4"/>
<line x1="142.6" y1="1083.4" x2="142.6" y2="1090.8" stroke="#4c4c58" stroke-width="1.4"/>
<line x1="137.1" y1="1083.4" x2="148.1" y2="1083.4" stroke="#4c4c58" stroke-width="1.4"/>
<line x1="137.1" y1="1090.8" x2="148.1" y2="1090.8" stroke="#4c4c58" stroke-width="1.4"/>
<line x1="159.1" y1="1081.8" x2="159.1" y2="1089.2" stroke="#4c4c58" stroke-width="1.4"/>
<line x1="153.6" y1="1081.8" x2="164.6" y2="1081.8" stroke="#4c4c58" stroke-width="1.4"/>
<line x1="153.6" y1="1089.2" x2="164.6" y2="1089.2" stroke="#4c4c58" stroke-width="1.4"/>
<line x1="178.3" y1="1084.3" x2="178.3" y2="1091.7" stroke="#4c4c58" stroke-width="1.4"/>
<line x1="172.8" y1="1084.3" x2="183.8" y2="1084.3" stroke="#4c4c58" stroke-width="1.4"/>
<line x1="172.8" y1="1091.7" x2="183.8" y2="1091.7" stroke="#4c4c58" stroke-width="1.4"/>
<line x1="197.5" y1="1085.7" x2="197.5" y2="1093.1" stroke="#4c4c58" stroke-width="1.4"/>
<line x1="192.0" y1="1085.7" x2="203.0" y2="1085.7" stroke="#4c4c58" stroke-width="1.4"/>
<line x1="192.0" y1="1093.1" x2="203.0" y2="1093.1" stroke="#4c4c58" stroke-width="1.4"/>
<line x1="216.7" y1="1081.6" x2="216.7" y2="1088.9" stroke="#4c4c58" stroke-width="1.4"/>
<line x1="211.2" y1="1081.6" x2="222.2" y2="1081.6" stroke="#4c4c58" stroke-width="1.4"/>
<line x1="211.2" y1="1088.9" x2="222.2" y2="1088.9" stroke="#4c4c58" stroke-width="1.4"/>
<line x1="235.9" y1="1077.9" x2="235.9" y2="1085.3" stroke="#4c4c58" stroke-width="1.4"/>
<line x1="230.4" y1="1077.9" x2="241.4" y2="1077.9" stroke="#4c4c58" stroke-width="1.4"/>
<line x1="230.4" y1="1085.3" x2="241.4" y2="1085.3" stroke="#4c4c58" stroke-width="1.4"/>
<line x1="252.4" y1="1078.8" x2="252.4" y2="1086.2" stroke="#4c4c58" stroke-width="1.4"/>
<line x1="246.9" y1="1078.8" x2="257.9" y2="1078.8" stroke="#4c4c58" stroke-width="1.4"/>
<line x1="246.9" y1="1086.2" x2="257.9" y2="1086.2" stroke="#4c4c58" stroke-width="1.4"/>
<line x1="296.3" y1="1075.1" x2="296.3" y2="1084.3" stroke="#4c4c58" stroke-width="1.4"/>
<line x1="290.8" y1="1075.1" x2="301.8" y2="1075.1" stroke="#4c4c58" stroke-width="1.4"/>
<line x1="290.8" y1="1084.3" x2="301.8" y2="1084.3" stroke="#4c4c58" stroke-width="1.4"/>
<line x1="315.5" y1="1074.0" x2="315.5" y2="1083.2" stroke="#4c4c58" stroke-width="1.4"/>
<line x1="310.0" y1="1074.0" x2="321.0" y2="1074.0" stroke="#4c4c58" stroke-width="1.4"/>
<line x1="310.0" y1="1083.2" x2="321.0" y2="1083.2" stroke="#4c4c58" stroke-width="1.4"/>
<line x1="331.9" y1="1073.1" x2="331.9" y2="1084.1" stroke="#4c4c58" stroke-width="1.4"/>
<line x1="326.4" y1="1073.1" x2="337.4" y2="1073.1" stroke="#4c4c58" stroke-width="1.4"/>
<line x1="326.4" y1="1084.1" x2="337.4" y2="1084.1" stroke="#4c4c58" stroke-width="1.4"/>
<line x1="353.9" y1="1070.2" x2="353.9" y2="1081.2" stroke="#4c4c58" stroke-width="1.4"/>
<line x1="348.4" y1="1070.2" x2="359.4" y2="1070.2" stroke="#4c4c58" stroke-width="1.4"/>
<line x1="348.4" y1="1081.2" x2="359.4" y2="1081.2" stroke="#4c4c58" stroke-width="1.4"/>
<line x1="370.3" y1="1072.8" x2="370.3" y2="1086.6" stroke="#4c4c58" stroke-width="1.4"/>
<line x1="364.8" y1="1072.8" x2="375.8" y2="1072.8" stroke="#4c4c58" stroke-width="1.4"/>
<line x1="364.8" y1="1086.6" x2="375.8" y2="1086.6" stroke="#4c4c58" stroke-width="1.4"/>
<line x1="408.7" y1="1076.9" x2="408.7" y2="1088.0" stroke="#4c4c58" stroke-width="1.4"/>
<line x1="403.2" y1="1076.9" x2="414.2" y2="1076.9" stroke="#4c4c58" stroke-width="1.4"/>
<line x1="403.2" y1="1088.0" x2="414.2" y2="1088.0" stroke="#4c4c58" stroke-width="1.4"/>
<line x1="447.1" y1="1066.5" x2="447.1" y2="1084.9" stroke="#4c4c58" stroke-width="1.4"/>
<line x1="441.6" y1="1066.5" x2="452.6" y2="1066.5" stroke="#4c4c58" stroke-width="1.4"/>
<line x1="441.6" y1="1084.9" x2="452.6" y2="1084.9" stroke="#4c4c58" stroke-width="1.4"/>
<line x1="488.3" y1="1059.6" x2="488.3" y2="1082.7" stroke="#4c4c58" stroke-width="1.4"/>
<line x1="482.8" y1="1059.6" x2="493.8" y2="1059.6" stroke="#4c4c58" stroke-width="1.4"/>
<line x1="482.8" y1="1082.7" x2="493.8" y2="1082.7" stroke="#4c4c58" stroke-width="1.4"/>
<line x1="523.9" y1="1059.9" x2="523.9" y2="1087.6" stroke="#4c4c58" stroke-width="1.4"/>
<line x1="518.4" y1="1059.9" x2="529.4" y2="1059.9" stroke="#4c4c58" stroke-width="1.4"/>
<line x1="518.4" y1="1087.6" x2="529.4" y2="1087.6" stroke="#4c4c58" stroke-width="1.4"/>
<line x1="573.3" y1="1048.5" x2="573.3" y2="1083.5" stroke="#4c4c58" stroke-width="1.4"/>
<line x1="567.8" y1="1048.5" x2="578.8" y2="1048.5" stroke="#4c4c58" stroke-width="1.4"/>
<line x1="567.8" y1="1083.5" x2="578.8" y2="1083.5" stroke="#4c4c58" stroke-width="1.4"/>
<line x1="628.2" y1="1048.1" x2="628.2" y2="1083.1" stroke="#4c4c58" stroke-width="1.4"/>
<line x1="622.7" y1="1048.1" x2="633.7" y2="1048.1" stroke="#4c4c58" stroke-width="1.4"/>
<line x1="622.7" y1="1083.1" x2="633.7" y2="1083.1" stroke="#4c4c58" stroke-width="1.4"/>
<line x1="663.8" y1="1054.6" x2="663.8" y2="1087.8" stroke="#4c4c58" stroke-width="1.4"/>
<line x1="658.3" y1="1054.6" x2="669.3" y2="1054.6" stroke="#4c4c58" stroke-width="1.4"/>
<line x1="658.3" y1="1087.8" x2="669.3" y2="1087.8" stroke="#4c4c58" stroke-width="1.4"/>
<line x1="674.8" y1="1058.5" x2="674.8" y2="1090.8" stroke="#4c4c58" stroke-width="1.4"/>
<line x1="669.3" y1="1058.5" x2="680.3" y2="1058.5" stroke="#4c4c58" stroke-width="1.4"/>
<line x1="669.3" y1="1090.8" x2="680.3" y2="1090.8" stroke="#4c4c58" stroke-width="1.4"/>
<line x1="683.0" y1="1055.9" x2="683.0" y2="1090.1" stroke="#4c4c58" stroke-width="1.4"/>
<line x1="677.5" y1="1055.9" x2="688.5" y2="1055.9" stroke="#4c4c58" stroke-width="1.4"/>
<line x1="677.5" y1="1090.1" x2="688.5" y2="1090.1" stroke="#4c4c58" stroke-width="1.4"/>
<line x1="696.7" y1="1059.4" x2="696.7" y2="1091.7" stroke="#4c4c58" stroke-width="1.4"/>
<line x1="691.2" y1="1059.4" x2="702.2" y2="1059.4" stroke="#4c4c58" stroke-width="1.4"/>
<line x1="691.2" y1="1091.7" x2="702.2" y2="1091.7" stroke="#4c4c58" stroke-width="1.4"/>
<line x1="715.9" y1="1056.0" x2="715.9" y2="1088.3" stroke="#4c4c58" stroke-width="1.4"/>
<line x1="710.4" y1="1056.0" x2="721.4" y2="1056.0" stroke="#4c4c58" stroke-width="1.4"/>
<line x1="710.4" y1="1088.3" x2="721.4" y2="1088.3" stroke="#4c4c58" stroke-width="1.4"/>
<line x1="737.9" y1="1047.1" x2="737.9" y2="1079.4" stroke="#4c4c58" stroke-width="1.4"/>
<line x1="732.4" y1="1047.1" x2="743.4" y2="1047.1" stroke="#4c4c58" stroke-width="1.4"/>
<line x1="732.4" y1="1079.4" x2="743.4" y2="1079.4" stroke="#4c4c58" stroke-width="1.4"/>
<polyline points="82.3,1089.4 90.5,1089.4 101.5,1089.4 120.7,1087.1 142.6,1087.1 159.1,1085.5 178.3,1088.0 197.5,1089.4 216.7,1085.3 235.9,1081.6 252.4,1082.5 296.3,1079.7 315.5,1078.6 331.9,1078.6 353.9,1075.7 370.3,1079.7 408.7,1082.5 447.1,1075.7 488.3,1071.2 523.9,1073.7 573.3,1066.0 628.2,1065.6 663.8,1071.2 674.8,1074.7 683.0,1073.0 696.7,1075.6 715.9,1072.1 737.9,1063.3" fill="none" stroke="#f68080" stroke-width="3.8" stroke-linejoin="round"/>
<circle cx="82.3" cy="1089.4" r="5.2" fill="none" stroke="#f68080" stroke-width="2.2"/>
<circle cx="90.5" cy="1089.4" r="5.2" fill="none" stroke="#f68080" stroke-width="2.2"/>
<circle cx="101.5" cy="1089.4" r="5.2" fill="none" stroke="#f68080" stroke-width="2.2"/>
<circle cx="120.7" cy="1087.1" r="5.2" fill="none" stroke="#f68080" stroke-width="2.2"/>
<circle cx="142.6" cy="1087.1" r="5.2" fill="none" stroke="#f68080" stroke-width="2.2"/>
<circle cx="159.1" cy="1085.5" r="5.2" fill="none" stroke="#f68080" stroke-width="2.2"/>
<circle cx="178.3" cy="1088.0" r="5.2" fill="none" stroke="#f68080" stroke-width="2.2"/>
<circle cx="197.5" cy="1089.4" r="5.2" fill="none" stroke="#f68080" stroke-width="2.2"/>
<circle cx="216.7" cy="1085.3" r="5.2" fill="none" stroke="#f68080" stroke-width="2.2"/>
<circle cx="235.9" cy="1081.6" r="5.2" fill="none" stroke="#f68080" stroke-width="2.2"/>
<circle cx="252.4" cy="1082.5" r="5.2" fill="none" stroke="#f68080" stroke-width="2.2"/>
<circle cx="296.3" cy="1079.7" r="5.2" fill="none" stroke="#f68080" stroke-width="2.2"/>
<circle cx="315.5" cy="1078.6" r="5.2" fill="none" stroke="#f68080" stroke-width="2.2"/>
<circle cx="331.9" cy="1078.6" r="5.2" fill="none" stroke="#f68080" stroke-width="2.2"/>
<circle cx="353.9" cy="1075.7" r="5.2" fill="none" stroke="#f68080" stroke-width="2.2"/>
<circle cx="370.3" cy="1079.7" r="5.2" fill="none" stroke="#f68080" stroke-width="2.2"/>
<circle cx="408.7" cy="1082.5" r="5.2" fill="none" stroke="#f68080" stroke-width="2.2"/>
<circle cx="447.1" cy="1075.7" r="5.2" fill="none" stroke="#f68080" stroke-width="2.2"/>
<circle cx="488.3" cy="1071.2" r="5.2" fill="none" stroke="#f68080" stroke-width="2.2"/>
<circle cx="523.9" cy="1073.7" r="5.2" fill="none" stroke="#f68080" stroke-width="2.2"/>
<circle cx="573.3" cy="1066.0" r="5.2" fill="none" stroke="#f68080" stroke-width="2.2"/>
<circle cx="628.2" cy="1065.6" r="5.2" fill="none" stroke="#f68080" stroke-width="2.2"/>
<circle cx="663.8" cy="1071.2" r="5.2" fill="none" stroke="#f68080" stroke-width="2.2"/>
<circle cx="674.8" cy="1074.7" r="5.2" fill="none" stroke="#f68080" stroke-width="2.2"/>
<circle cx="683.0" cy="1073.0" r="5.2" fill="none" stroke="#f68080" stroke-width="2.2"/>
<circle cx="696.7" cy="1075.6" r="5.2" fill="none" stroke="#f68080" stroke-width="2.2"/>
<circle cx="715.9" cy="1072.1" r="5.2" fill="none" stroke="#f68080" stroke-width="2.2"/>
<circle cx="737.9" cy="1063.3" r="5.2" fill="none" stroke="#f68080" stroke-width="2.2"/>
<line x1="82.3" y1="1057.1" x2="82.3" y2="1068.2" stroke="#1d6a1d" stroke-width="1.4"/>
<line x1="76.8" y1="1057.1" x2="87.8" y2="1057.1" stroke="#1d6a1d" stroke-width="1.4"/>
<line x1="76.8" y1="1068.2" x2="87.8" y2="1068.2" stroke="#1d6a1d" stroke-width="1.4"/>
<line x1="90.5" y1="1057.1" x2="90.5" y2="1068.2" stroke="#1d6a1d" stroke-width="1.4"/>
<line x1="85.0" y1="1057.1" x2="96.0" y2="1057.1" stroke="#1d6a1d" stroke-width="1.4"/>
<line x1="85.0" y1="1068.2" x2="96.0" y2="1068.2" stroke="#1d6a1d" stroke-width="1.4"/>
<line x1="101.5" y1="1062.2" x2="101.5" y2="1073.3" stroke="#1d6a1d" stroke-width="1.4"/>
<line x1="96.0" y1="1062.2" x2="107.0" y2="1062.2" stroke="#1d6a1d" stroke-width="1.4"/>
<line x1="96.0" y1="1073.3" x2="107.0" y2="1073.3" stroke="#1d6a1d" stroke-width="1.4"/>
<line x1="120.7" y1="1044.6" x2="120.7" y2="1055.7" stroke="#1d6a1d" stroke-width="1.4"/>
<line x1="115.2" y1="1044.6" x2="126.2" y2="1044.6" stroke="#1d6a1d" stroke-width="1.4"/>
<line x1="115.2" y1="1055.7" x2="126.2" y2="1055.7" stroke="#1d6a1d" stroke-width="1.4"/>
<line x1="142.6" y1="1046.5" x2="142.6" y2="1060.3" stroke="#1d6a1d" stroke-width="1.4"/>
<line x1="137.1" y1="1046.5" x2="148.1" y2="1046.5" stroke="#1d6a1d" stroke-width="1.4"/>
<line x1="137.1" y1="1060.3" x2="148.1" y2="1060.3" stroke="#1d6a1d" stroke-width="1.4"/>
<line x1="159.1" y1="1059.6" x2="159.1" y2="1070.7" stroke="#1d6a1d" stroke-width="1.4"/>
<line x1="153.6" y1="1059.6" x2="164.6" y2="1059.6" stroke="#1d6a1d" stroke-width="1.4"/>
<line x1="153.6" y1="1070.7" x2="164.6" y2="1070.7" stroke="#1d6a1d" stroke-width="1.4"/>
<line x1="178.3" y1="1059.0" x2="178.3" y2="1070.0" stroke="#1d6a1d" stroke-width="1.4"/>
<line x1="172.8" y1="1059.0" x2="183.8" y2="1059.0" stroke="#1d6a1d" stroke-width="1.4"/>
<line x1="172.8" y1="1070.0" x2="183.8" y2="1070.0" stroke="#1d6a1d" stroke-width="1.4"/>
<line x1="197.5" y1="1059.0" x2="197.5" y2="1070.0" stroke="#1d6a1d" stroke-width="1.4"/>
<line x1="192.0" y1="1059.0" x2="203.0" y2="1059.0" stroke="#1d6a1d" stroke-width="1.4"/>
<line x1="192.0" y1="1070.0" x2="203.0" y2="1070.0" stroke="#1d6a1d" stroke-width="1.4"/>
<line x1="216.7" y1="1062.2" x2="216.7" y2="1073.3" stroke="#1d6a1d" stroke-width="1.4"/>
<line x1="211.2" y1="1062.2" x2="222.2" y2="1062.2" stroke="#1d6a1d" stroke-width="1.4"/>
<line x1="211.2" y1="1073.3" x2="222.2" y2="1073.3" stroke="#1d6a1d" stroke-width="1.4"/>
<line x1="235.9" y1="1059.0" x2="235.9" y2="1070.0" stroke="#1d6a1d" stroke-width="1.4"/>
<line x1="230.4" y1="1059.0" x2="241.4" y2="1059.0" stroke="#1d6a1d" stroke-width="1.4"/>
<line x1="230.4" y1="1070.0" x2="241.4" y2="1070.0" stroke="#1d6a1d" stroke-width="1.4"/>
<line x1="252.4" y1="1055.1" x2="252.4" y2="1068.9" stroke="#1d6a1d" stroke-width="1.4"/>
<line x1="246.9" y1="1055.1" x2="257.9" y2="1055.1" stroke="#1d6a1d" stroke-width="1.4"/>
<line x1="246.9" y1="1068.9" x2="257.9" y2="1068.9" stroke="#1d6a1d" stroke-width="1.4"/>
<line x1="296.3" y1="1057.6" x2="296.3" y2="1068.6" stroke="#1d6a1d" stroke-width="1.4"/>
<line x1="290.8" y1="1057.6" x2="301.8" y2="1057.6" stroke="#1d6a1d" stroke-width="1.4"/>
<line x1="290.8" y1="1068.6" x2="301.8" y2="1068.6" stroke="#1d6a1d" stroke-width="1.4"/>
<line x1="315.5" y1="1061.4" x2="315.5" y2="1072.4" stroke="#1d6a1d" stroke-width="1.4"/>
<line x1="310.0" y1="1061.4" x2="321.0" y2="1061.4" stroke="#1d6a1d" stroke-width="1.4"/>
<line x1="310.0" y1="1072.4" x2="321.0" y2="1072.4" stroke="#1d6a1d" stroke-width="1.4"/>
<line x1="331.9" y1="1055.4" x2="331.9" y2="1066.5" stroke="#1d6a1d" stroke-width="1.4"/>
<line x1="326.4" y1="1055.4" x2="337.4" y2="1055.4" stroke="#1d6a1d" stroke-width="1.4"/>
<line x1="326.4" y1="1066.5" x2="337.4" y2="1066.5" stroke="#1d6a1d" stroke-width="1.4"/>
<line x1="353.9" y1="1053.1" x2="353.9" y2="1066.9" stroke="#1d6a1d" stroke-width="1.4"/>
<line x1="348.4" y1="1053.1" x2="359.4" y2="1053.1" stroke="#1d6a1d" stroke-width="1.4"/>
<line x1="348.4" y1="1066.9" x2="359.4" y2="1066.9" stroke="#1d6a1d" stroke-width="1.4"/>
<line x1="370.3" y1="1049.3" x2="370.3" y2="1063.1" stroke="#1d6a1d" stroke-width="1.4"/>
<line x1="364.8" y1="1049.3" x2="375.8" y2="1049.3" stroke="#1d6a1d" stroke-width="1.4"/>
<line x1="364.8" y1="1063.1" x2="375.8" y2="1063.1" stroke="#1d6a1d" stroke-width="1.4"/>
<line x1="408.7" y1="1044.8" x2="408.7" y2="1054.0" stroke="#1d6a1d" stroke-width="1.4"/>
<line x1="403.2" y1="1044.8" x2="414.2" y2="1044.8" stroke="#1d6a1d" stroke-width="1.4"/>
<line x1="403.2" y1="1054.0" x2="414.2" y2="1054.0" stroke="#1d6a1d" stroke-width="1.4"/>
<line x1="447.1" y1="1042.8" x2="447.1" y2="1053.9" stroke="#1d6a1d" stroke-width="1.4"/>
<line x1="441.6" y1="1042.8" x2="452.6" y2="1042.8" stroke="#1d6a1d" stroke-width="1.4"/>
<line x1="441.6" y1="1053.9" x2="452.6" y2="1053.9" stroke="#1d6a1d" stroke-width="1.4"/>
<line x1="488.3" y1="1047.4" x2="488.3" y2="1061.3" stroke="#1d6a1d" stroke-width="1.4"/>
<line x1="482.8" y1="1047.4" x2="493.8" y2="1047.4" stroke="#1d6a1d" stroke-width="1.4"/>
<line x1="482.8" y1="1061.3" x2="493.8" y2="1061.3" stroke="#1d6a1d" stroke-width="1.4"/>
<line x1="523.9" y1="1037.0" x2="523.9" y2="1048.1" stroke="#1d6a1d" stroke-width="1.4"/>
<line x1="518.4" y1="1037.0" x2="529.4" y2="1037.0" stroke="#1d6a1d" stroke-width="1.4"/>
<line x1="518.4" y1="1048.1" x2="529.4" y2="1048.1" stroke="#1d6a1d" stroke-width="1.4"/>
<line x1="573.3" y1="1027.6" x2="573.3" y2="1046.0" stroke="#1d6a1d" stroke-width="1.4"/>
<line x1="567.8" y1="1027.6" x2="578.8" y2="1027.6" stroke="#1d6a1d" stroke-width="1.4"/>
<line x1="567.8" y1="1046.0" x2="578.8" y2="1046.0" stroke="#1d6a1d" stroke-width="1.4"/>
<line x1="628.2" y1="1033.8" x2="628.2" y2="1052.3" stroke="#1d6a1d" stroke-width="1.4"/>
<line x1="622.7" y1="1033.8" x2="633.7" y2="1033.8" stroke="#1d6a1d" stroke-width="1.4"/>
<line x1="622.7" y1="1052.3" x2="633.7" y2="1052.3" stroke="#1d6a1d" stroke-width="1.4"/>
<line x1="663.8" y1="1030.8" x2="663.8" y2="1044.6" stroke="#1d6a1d" stroke-width="1.4"/>
<line x1="658.3" y1="1030.8" x2="669.3" y2="1030.8" stroke="#1d6a1d" stroke-width="1.4"/>
<line x1="658.3" y1="1044.6" x2="669.3" y2="1044.6" stroke="#1d6a1d" stroke-width="1.4"/>
<line x1="674.8" y1="1030.3" x2="674.8" y2="1044.2" stroke="#1d6a1d" stroke-width="1.4"/>
<line x1="669.3" y1="1030.3" x2="680.3" y2="1030.3" stroke="#1d6a1d" stroke-width="1.4"/>
<line x1="669.3" y1="1044.2" x2="680.3" y2="1044.2" stroke="#1d6a1d" stroke-width="1.4"/>
<line x1="683.0" y1="1026.8" x2="683.0" y2="1045.2" stroke="#1d6a1d" stroke-width="1.4"/>
<line x1="677.5" y1="1026.8" x2="688.5" y2="1026.8" stroke="#1d6a1d" stroke-width="1.4"/>
<line x1="677.5" y1="1045.2" x2="688.5" y2="1045.2" stroke="#1d6a1d" stroke-width="1.4"/>
<line x1="696.7" y1="1025.3" x2="696.7" y2="1043.7" stroke="#1d6a1d" stroke-width="1.4"/>
<line x1="691.2" y1="1025.3" x2="702.2" y2="1025.3" stroke="#1d6a1d" stroke-width="1.4"/>
<line x1="691.2" y1="1043.7" x2="702.2" y2="1043.7" stroke="#1d6a1d" stroke-width="1.4"/>
<line x1="715.9" y1="1010.0" x2="715.9" y2="1037.7" stroke="#1d6a1d" stroke-width="1.4"/>
<line x1="710.4" y1="1010.0" x2="721.4" y2="1010.0" stroke="#1d6a1d" stroke-width="1.4"/>
<line x1="710.4" y1="1037.7" x2="721.4" y2="1037.7" stroke="#1d6a1d" stroke-width="1.4"/>
<line x1="737.9" y1="1010.0" x2="737.9" y2="1028.5" stroke="#1d6a1d" stroke-width="1.4"/>
<line x1="732.4" y1="1010.0" x2="743.4" y2="1010.0" stroke="#1d6a1d" stroke-width="1.4"/>
<line x1="732.4" y1="1028.5" x2="743.4" y2="1028.5" stroke="#1d6a1d" stroke-width="1.4"/>
<polyline points="82.3,1062.6 90.5,1062.6 101.5,1067.7 120.7,1050.2 142.6,1053.4 159.1,1065.2 178.3,1064.5 197.5,1064.5 216.7,1067.7 235.9,1064.5 252.4,1062.0 296.3,1063.1 315.5,1066.9 331.9,1061.0 353.9,1060.0 370.3,1056.2 408.7,1049.4 447.1,1048.4 488.3,1054.3 523.9,1042.5 573.3,1036.8 628.2,1043.0 663.8,1037.7 674.8,1037.3 683.0,1036.0 696.7,1034.5 715.9,1023.9 737.9,1019.3" fill="none" stroke="#048404" stroke-width="3.8" stroke-linejoin="round"/>
<path d="M82.3,1056.6 L88.1,1067.4 L76.5,1067.4 Z" fill="#048404"/>
<path d="M90.5,1056.6 L96.3,1067.4 L84.7,1067.4 Z" fill="#048404"/>
<path d="M101.5,1061.7 L107.3,1072.5 L95.7,1072.5 Z" fill="#048404"/>
<path d="M120.7,1044.2 L126.5,1055.0 L114.9,1055.0 Z" fill="#048404"/>
<path d="M142.6,1047.4 L148.4,1058.2 L136.8,1058.2 Z" fill="#048404"/>
<path d="M159.1,1059.2 L164.9,1070.0 L153.3,1070.0 Z" fill="#048404"/>
<path d="M178.3,1058.5 L184.1,1069.3 L172.5,1069.3 Z" fill="#048404"/>
<path d="M197.5,1058.5 L203.3,1069.3 L191.7,1069.3 Z" fill="#048404"/>
<path d="M216.7,1061.7 L222.5,1072.5 L210.9,1072.5 Z" fill="#048404"/>
<path d="M235.9,1058.5 L241.7,1069.3 L230.1,1069.3 Z" fill="#048404"/>
<path d="M252.4,1056.0 L258.2,1066.8 L246.6,1066.8 Z" fill="#048404"/>
<path d="M296.3,1057.1 L302.1,1067.9 L290.5,1067.9 Z" fill="#048404"/>
<path d="M315.5,1060.9 L321.3,1071.7 L309.7,1071.7 Z" fill="#048404"/>
<path d="M331.9,1055.0 L337.7,1065.8 L326.1,1065.8 Z" fill="#048404"/>
<path d="M353.9,1054.0 L359.7,1064.8 L348.1,1064.8 Z" fill="#048404"/>
<path d="M370.3,1050.2 L376.1,1061.0 L364.5,1061.0 Z" fill="#048404"/>
<path d="M408.7,1043.4 L414.5,1054.2 L402.9,1054.2 Z" fill="#048404"/>
<path d="M447.1,1042.4 L452.9,1053.2 L441.3,1053.2 Z" fill="#048404"/>
<path d="M488.3,1048.3 L494.1,1059.1 L482.5,1059.1 Z" fill="#048404"/>
<path d="M523.9,1036.5 L529.7,1047.3 L518.1,1047.3 Z" fill="#048404"/>
<path d="M573.3,1030.8 L579.1,1041.6 L567.5,1041.6 Z" fill="#048404"/>
<path d="M628.2,1037.0 L634.0,1047.8 L622.4,1047.8 Z" fill="#048404"/>
<path d="M663.8,1031.7 L669.6,1042.5 L658.0,1042.5 Z" fill="#048404"/>
<path d="M674.8,1031.3 L680.6,1042.1 L669.0,1042.1 Z" fill="#048404"/>
<path d="M683.0,1030.0 L688.8,1040.8 L677.2,1040.8 Z" fill="#048404"/>
<path d="M696.7,1028.5 L702.5,1039.3 L690.9,1039.3 Z" fill="#048404"/>
<path d="M715.9,1017.9 L721.7,1028.7 L710.1,1028.7 Z" fill="#048404"/>
<path d="M737.9,1013.3 L743.7,1024.1 L732.1,1024.1 Z" fill="#048404"/>
<line x1="82.3" y1="1074.6" x2="82.3" y2="1088.5" stroke="#9ad894" stroke-width="1.4"/>
<line x1="76.8" y1="1074.6" x2="87.8" y2="1074.6" stroke="#9ad894" stroke-width="1.4"/>
<line x1="76.8" y1="1088.5" x2="87.8" y2="1088.5" stroke="#9ad894" stroke-width="1.4"/>
<line x1="90.5" y1="1073.3" x2="90.5" y2="1087.1" stroke="#9ad894" stroke-width="1.4"/>
<line x1="85.0" y1="1073.3" x2="96.0" y2="1073.3" stroke="#9ad894" stroke-width="1.4"/>
<line x1="85.0" y1="1087.1" x2="96.0" y2="1087.1" stroke="#9ad894" stroke-width="1.4"/>
<line x1="101.5" y1="1073.3" x2="101.5" y2="1087.1" stroke="#9ad894" stroke-width="1.4"/>
<line x1="96.0" y1="1073.3" x2="107.0" y2="1073.3" stroke="#9ad894" stroke-width="1.4"/>
<line x1="96.0" y1="1087.1" x2="107.0" y2="1087.1" stroke="#9ad894" stroke-width="1.4"/>
<line x1="120.7" y1="1045.1" x2="120.7" y2="1063.6" stroke="#9ad894" stroke-width="1.4"/>
<line x1="115.2" y1="1045.1" x2="126.2" y2="1045.1" stroke="#9ad894" stroke-width="1.4"/>
<line x1="115.2" y1="1063.6" x2="126.2" y2="1063.6" stroke="#9ad894" stroke-width="1.4"/>
<line x1="142.6" y1="1063.1" x2="142.6" y2="1081.6" stroke="#9ad894" stroke-width="1.4"/>
<line x1="137.1" y1="1063.1" x2="148.1" y2="1063.1" stroke="#9ad894" stroke-width="1.4"/>
<line x1="137.1" y1="1081.6" x2="148.1" y2="1081.6" stroke="#9ad894" stroke-width="1.4"/>
<line x1="159.1" y1="1063.1" x2="159.1" y2="1081.6" stroke="#9ad894" stroke-width="1.4"/>
<line x1="153.6" y1="1063.1" x2="164.6" y2="1063.1" stroke="#9ad894" stroke-width="1.4"/>
<line x1="153.6" y1="1081.6" x2="164.6" y2="1081.6" stroke="#9ad894" stroke-width="1.4"/>
<line x1="178.3" y1="1061.3" x2="178.3" y2="1079.7" stroke="#9ad894" stroke-width="1.4"/>
<line x1="172.8" y1="1061.3" x2="183.8" y2="1061.3" stroke="#9ad894" stroke-width="1.4"/>
<line x1="172.8" y1="1079.7" x2="183.8" y2="1079.7" stroke="#9ad894" stroke-width="1.4"/>
<line x1="197.5" y1="1049.7" x2="197.5" y2="1068.2" stroke="#9ad894" stroke-width="1.4"/>
<line x1="192.0" y1="1049.7" x2="203.0" y2="1049.7" stroke="#9ad894" stroke-width="1.4"/>
<line x1="192.0" y1="1068.2" x2="203.0" y2="1068.2" stroke="#9ad894" stroke-width="1.4"/>
<line x1="216.7" y1="1045.8" x2="216.7" y2="1064.3" stroke="#9ad894" stroke-width="1.4"/>
<line x1="211.2" y1="1045.8" x2="222.2" y2="1045.8" stroke="#9ad894" stroke-width="1.4"/>
<line x1="211.2" y1="1064.3" x2="222.2" y2="1064.3" stroke="#9ad894" stroke-width="1.4"/>
<line x1="235.9" y1="1041.9" x2="235.9" y2="1060.3" stroke="#9ad894" stroke-width="1.4"/>
<line x1="230.4" y1="1041.9" x2="241.4" y2="1041.9" stroke="#9ad894" stroke-width="1.4"/>
<line x1="230.4" y1="1060.3" x2="241.4" y2="1060.3" stroke="#9ad894" stroke-width="1.4"/>
<line x1="252.4" y1="1037.3" x2="252.4" y2="1055.7" stroke="#9ad894" stroke-width="1.4"/>
<line x1="246.9" y1="1037.3" x2="257.9" y2="1037.3" stroke="#9ad894" stroke-width="1.4"/>
<line x1="246.9" y1="1055.7" x2="257.9" y2="1055.7" stroke="#9ad894" stroke-width="1.4"/>
<line x1="296.3" y1="1037.3" x2="296.3" y2="1055.7" stroke="#9ad894" stroke-width="1.4"/>
<line x1="290.8" y1="1037.3" x2="301.8" y2="1037.3" stroke="#9ad894" stroke-width="1.4"/>
<line x1="290.8" y1="1055.7" x2="301.8" y2="1055.7" stroke="#9ad894" stroke-width="1.4"/>
<line x1="315.5" y1="1034.5" x2="315.5" y2="1062.2" stroke="#9ad894" stroke-width="1.4"/>
<line x1="310.0" y1="1034.5" x2="321.0" y2="1034.5" stroke="#9ad894" stroke-width="1.4"/>
<line x1="310.0" y1="1062.2" x2="321.0" y2="1062.2" stroke="#9ad894" stroke-width="1.4"/>
<line x1="331.9" y1="1041.0" x2="331.9" y2="1059.4" stroke="#9ad894" stroke-width="1.4"/>
<line x1="326.4" y1="1041.0" x2="337.4" y2="1041.0" stroke="#9ad894" stroke-width="1.4"/>
<line x1="326.4" y1="1059.4" x2="337.4" y2="1059.4" stroke="#9ad894" stroke-width="1.4"/>
<line x1="353.9" y1="1030.3" x2="353.9" y2="1062.6" stroke="#9ad894" stroke-width="1.4"/>
<line x1="348.4" y1="1030.3" x2="359.4" y2="1030.3" stroke="#9ad894" stroke-width="1.4"/>
<line x1="348.4" y1="1062.6" x2="359.4" y2="1062.6" stroke="#9ad894" stroke-width="1.4"/>
<line x1="370.3" y1="1034.0" x2="370.3" y2="1052.5" stroke="#9ad894" stroke-width="1.4"/>
<line x1="364.8" y1="1034.0" x2="375.8" y2="1034.0" stroke="#9ad894" stroke-width="1.4"/>
<line x1="364.8" y1="1052.5" x2="375.8" y2="1052.5" stroke="#9ad894" stroke-width="1.4"/>
<line x1="408.7" y1="1029.4" x2="408.7" y2="1047.9" stroke="#9ad894" stroke-width="1.4"/>
<line x1="403.2" y1="1029.4" x2="414.2" y2="1029.4" stroke="#9ad894" stroke-width="1.4"/>
<line x1="403.2" y1="1047.9" x2="414.2" y2="1047.9" stroke="#9ad894" stroke-width="1.4"/>
<line x1="447.1" y1="997.6" x2="447.1" y2="1042.8" stroke="#9ad894" stroke-width="1.4"/>
<line x1="441.6" y1="997.6" x2="452.6" y2="997.6" stroke="#9ad894" stroke-width="1.4"/>
<line x1="441.6" y1="1042.8" x2="452.6" y2="1042.8" stroke="#9ad894" stroke-width="1.4"/>
<line x1="488.3" y1="1015.1" x2="488.3" y2="1042.8" stroke="#9ad894" stroke-width="1.4"/>
<line x1="482.8" y1="1015.1" x2="493.8" y2="1015.1" stroke="#9ad894" stroke-width="1.4"/>
<line x1="482.8" y1="1042.8" x2="493.8" y2="1042.8" stroke="#9ad894" stroke-width="1.4"/>
<line x1="523.9" y1="1021.6" x2="523.9" y2="1040.0" stroke="#9ad894" stroke-width="1.4"/>
<line x1="518.4" y1="1021.6" x2="529.4" y2="1021.6" stroke="#9ad894" stroke-width="1.4"/>
<line x1="518.4" y1="1040.0" x2="529.4" y2="1040.0" stroke="#9ad894" stroke-width="1.4"/>
<line x1="573.3" y1="992.0" x2="573.3" y2="1052.0" stroke="#9ad894" stroke-width="1.4"/>
<line x1="567.8" y1="992.0" x2="578.8" y2="992.0" stroke="#9ad894" stroke-width="1.4"/>
<line x1="567.8" y1="1052.0" x2="578.8" y2="1052.0" stroke="#9ad894" stroke-width="1.4"/>
<line x1="628.2" y1="1017.4" x2="628.2" y2="1049.7" stroke="#9ad894" stroke-width="1.4"/>
<line x1="622.7" y1="1017.4" x2="633.7" y2="1017.4" stroke="#9ad894" stroke-width="1.4"/>
<line x1="622.7" y1="1049.7" x2="633.7" y2="1049.7" stroke="#9ad894" stroke-width="1.4"/>
<line x1="663.8" y1="1014.0" x2="663.8" y2="1037.0" stroke="#9ad894" stroke-width="1.4"/>
<line x1="658.3" y1="1014.0" x2="669.3" y2="1014.0" stroke="#9ad894" stroke-width="1.4"/>
<line x1="658.3" y1="1037.0" x2="669.3" y2="1037.0" stroke="#9ad894" stroke-width="1.4"/>
<line x1="674.8" y1="1014.2" x2="674.8" y2="1041.9" stroke="#9ad894" stroke-width="1.4"/>
<line x1="669.3" y1="1014.2" x2="680.3" y2="1014.2" stroke="#9ad894" stroke-width="1.4"/>
<line x1="669.3" y1="1041.9" x2="680.3" y2="1041.9" stroke="#9ad894" stroke-width="1.4"/>
<line x1="683.0" y1="1021.1" x2="683.0" y2="1044.2" stroke="#9ad894" stroke-width="1.4"/>
<line x1="677.5" y1="1021.1" x2="688.5" y2="1021.1" stroke="#9ad894" stroke-width="1.4"/>
<line x1="677.5" y1="1044.2" x2="688.5" y2="1044.2" stroke="#9ad894" stroke-width="1.4"/>
<line x1="696.7" y1="1020.6" x2="696.7" y2="1048.3" stroke="#9ad894" stroke-width="1.4"/>
<line x1="691.2" y1="1020.6" x2="702.2" y2="1020.6" stroke="#9ad894" stroke-width="1.4"/>
<line x1="691.2" y1="1048.3" x2="702.2" y2="1048.3" stroke="#9ad894" stroke-width="1.4"/>
<line x1="715.9" y1="1008.2" x2="715.9" y2="1035.9" stroke="#9ad894" stroke-width="1.4"/>
<line x1="710.4" y1="1008.2" x2="721.4" y2="1008.2" stroke="#9ad894" stroke-width="1.4"/>
<line x1="710.4" y1="1035.9" x2="721.4" y2="1035.9" stroke="#9ad894" stroke-width="1.4"/>
<line x1="737.9" y1="987.9" x2="737.9" y2="1015.6" stroke="#9ad894" stroke-width="1.4"/>
<line x1="732.4" y1="987.9" x2="743.4" y2="987.9" stroke="#9ad894" stroke-width="1.4"/>
<line x1="732.4" y1="1015.6" x2="743.4" y2="1015.6" stroke="#9ad894" stroke-width="1.4"/>
<polyline points="82.3,1081.6 90.5,1080.2 101.5,1080.2 120.7,1054.3 142.6,1072.3 159.1,1072.3 178.3,1070.5 197.5,1059.0 216.7,1055.0 235.9,1051.1 252.4,1046.5 296.3,1046.5 315.5,1048.3 331.9,1050.2 353.9,1046.5 370.3,1043.3 408.7,1038.6 447.1,1020.2 488.3,1029.0 523.9,1030.8 573.3,1022.0 628.2,1033.6 663.8,1025.5 674.8,1028.0 683.0,1032.6 696.7,1034.5 715.9,1022.0 737.9,1001.7" fill="none" stroke="#a8e4a0" stroke-width="4" stroke-linejoin="round"/>
<path d="M82.3,1075.3 L88.3,1086.6 L76.3,1086.6 Z" fill="none" stroke="#a8e4a0" stroke-width="2.1"/>
<path d="M90.5,1073.9 L96.5,1085.2 L84.5,1085.2 Z" fill="none" stroke="#a8e4a0" stroke-width="2.1"/>
<path d="M101.5,1073.9 L107.5,1085.2 L95.5,1085.2 Z" fill="none" stroke="#a8e4a0" stroke-width="2.1"/>
<path d="M120.7,1048.0 L126.7,1059.3 L114.7,1059.3 Z" fill="none" stroke="#a8e4a0" stroke-width="2.1"/>
<path d="M142.6,1066.0 L148.6,1077.3 L136.6,1077.3 Z" fill="none" stroke="#a8e4a0" stroke-width="2.1"/>
<path d="M159.1,1066.0 L165.1,1077.3 L153.1,1077.3 Z" fill="none" stroke="#a8e4a0" stroke-width="2.1"/>
<path d="M178.3,1064.2 L184.3,1075.5 L172.3,1075.5 Z" fill="none" stroke="#a8e4a0" stroke-width="2.1"/>
<path d="M197.5,1052.7 L203.5,1064.0 L191.5,1064.0 Z" fill="none" stroke="#a8e4a0" stroke-width="2.1"/>
<path d="M216.7,1048.7 L222.7,1060.0 L210.7,1060.0 Z" fill="none" stroke="#a8e4a0" stroke-width="2.1"/>
<path d="M235.9,1044.8 L241.9,1056.1 L229.9,1056.1 Z" fill="none" stroke="#a8e4a0" stroke-width="2.1"/>
<path d="M252.4,1040.2 L258.4,1051.5 L246.4,1051.5 Z" fill="none" stroke="#a8e4a0" stroke-width="2.1"/>
<path d="M296.3,1040.2 L302.3,1051.5 L290.3,1051.5 Z" fill="none" stroke="#a8e4a0" stroke-width="2.1"/>
<path d="M315.5,1042.0 L321.5,1053.3 L309.5,1053.3 Z" fill="none" stroke="#a8e4a0" stroke-width="2.1"/>
<path d="M331.9,1043.9 L337.9,1055.2 L325.9,1055.2 Z" fill="none" stroke="#a8e4a0" stroke-width="2.1"/>
<path d="M353.9,1040.2 L359.9,1051.5 L347.9,1051.5 Z" fill="none" stroke="#a8e4a0" stroke-width="2.1"/>
<path d="M370.3,1037.0 L376.3,1048.3 L364.3,1048.3 Z" fill="none" stroke="#a8e4a0" stroke-width="2.1"/>
<path d="M408.7,1032.3 L414.7,1043.6 L402.7,1043.6 Z" fill="none" stroke="#a8e4a0" stroke-width="2.1"/>
<path d="M447.1,1013.9 L453.1,1025.2 L441.1,1025.2 Z" fill="none" stroke="#a8e4a0" stroke-width="2.1"/>
<path d="M488.3,1022.7 L494.3,1034.0 L482.3,1034.0 Z" fill="none" stroke="#a8e4a0" stroke-width="2.1"/>
<path d="M523.9,1024.5 L529.9,1035.8 L517.9,1035.8 Z" fill="none" stroke="#a8e4a0" stroke-width="2.1"/>
<path d="M573.3,1015.7 L579.3,1027.0 L567.3,1027.0 Z" fill="none" stroke="#a8e4a0" stroke-width="2.1"/>
<path d="M628.2,1027.3 L634.2,1038.6 L622.2,1038.6 Z" fill="none" stroke="#a8e4a0" stroke-width="2.1"/>
<path d="M663.8,1019.2 L669.8,1030.5 L657.8,1030.5 Z" fill="none" stroke="#a8e4a0" stroke-width="2.1"/>
<path d="M674.8,1021.7 L680.8,1033.0 L668.8,1033.0 Z" fill="none" stroke="#a8e4a0" stroke-width="2.1"/>
<path d="M683.0,1026.3 L689.0,1037.6 L677.0,1037.6 Z" fill="none" stroke="#a8e4a0" stroke-width="2.1"/>
<path d="M696.7,1028.2 L702.7,1039.5 L690.7,1039.5 Z" fill="none" stroke="#a8e4a0" stroke-width="2.1"/>
<path d="M715.9,1015.7 L721.9,1027.0 L709.9,1027.0 Z" fill="none" stroke="#a8e4a0" stroke-width="2.1"/>
<path d="M737.9,995.4 L743.9,1006.7 L731.9,1006.7 Z" fill="none" stroke="#a8e4a0" stroke-width="2.1"/>
<line x1="82.3" y1="1033.1" x2="82.3" y2="1064.5" stroke="#4c4c58" stroke-width="1.4"/>
<line x1="76.3" y1="1033.1" x2="88.3" y2="1033.1" stroke="#4c4c58" stroke-width="1.4"/>
<line x1="76.3" y1="1064.5" x2="88.3" y2="1064.5" stroke="#4c4c58" stroke-width="1.4"/>
<line x1="90.5" y1="1035.0" x2="90.5" y2="1062.6" stroke="#4c4c58" stroke-width="1.4"/>
<line x1="84.5" y1="1035.0" x2="96.5" y2="1035.0" stroke="#4c4c58" stroke-width="1.4"/>
<line x1="84.5" y1="1062.6" x2="96.5" y2="1062.6" stroke="#4c4c58" stroke-width="1.4"/>
<line x1="101.5" y1="1035.0" x2="101.5" y2="1062.6" stroke="#4c4c58" stroke-width="1.4"/>
<line x1="95.5" y1="1035.0" x2="107.5" y2="1035.0" stroke="#4c4c58" stroke-width="1.4"/>
<line x1="95.5" y1="1062.6" x2="107.5" y2="1062.6" stroke="#4c4c58" stroke-width="1.4"/>
<line x1="120.7" y1="1016.0" x2="120.7" y2="1034.5" stroke="#4c4c58" stroke-width="1.4"/>
<line x1="114.7" y1="1016.0" x2="126.7" y2="1016.0" stroke="#4c4c58" stroke-width="1.4"/>
<line x1="114.7" y1="1034.5" x2="126.7" y2="1034.5" stroke="#4c4c58" stroke-width="1.4"/>
<line x1="142.6" y1="1003.1" x2="142.6" y2="1058.5" stroke="#4c4c58" stroke-width="1.4"/>
<line x1="136.6" y1="1003.1" x2="148.6" y2="1003.1" stroke="#4c4c58" stroke-width="1.4"/>
<line x1="136.6" y1="1058.5" x2="148.6" y2="1058.5" stroke="#4c4c58" stroke-width="1.4"/>
<line x1="159.1" y1="1043.5" x2="159.1" y2="1062.0" stroke="#4c4c58" stroke-width="1.4"/>
<line x1="153.1" y1="1043.5" x2="165.1" y2="1043.5" stroke="#4c4c58" stroke-width="1.4"/>
<line x1="153.1" y1="1062.0" x2="165.1" y2="1062.0" stroke="#4c4c58" stroke-width="1.4"/>
<line x1="178.3" y1="1039.6" x2="178.3" y2="1058.0" stroke="#4c4c58" stroke-width="1.4"/>
<line x1="172.3" y1="1039.6" x2="184.3" y2="1039.6" stroke="#4c4c58" stroke-width="1.4"/>
<line x1="172.3" y1="1058.0" x2="184.3" y2="1058.0" stroke="#4c4c58" stroke-width="1.4"/>
<line x1="197.5" y1="1030.3" x2="197.5" y2="1062.6" stroke="#4c4c58" stroke-width="1.4"/>
<line x1="191.5" y1="1030.3" x2="203.5" y2="1030.3" stroke="#4c4c58" stroke-width="1.4"/>
<line x1="191.5" y1="1062.6" x2="203.5" y2="1062.6" stroke="#4c4c58" stroke-width="1.4"/>
<line x1="216.7" y1="1020.2" x2="216.7" y2="1052.5" stroke="#4c4c58" stroke-width="1.4"/>
<line x1="210.7" y1="1020.2" x2="222.7" y2="1020.2" stroke="#4c4c58" stroke-width="1.4"/>
<line x1="210.7" y1="1052.5" x2="222.7" y2="1052.5" stroke="#4c4c58" stroke-width="1.4"/>
<line x1="235.9" y1="1011.6" x2="235.9" y2="1054.0" stroke="#4c4c58" stroke-width="1.4"/>
<line x1="229.9" y1="1011.6" x2="241.9" y2="1011.6" stroke="#4c4c58" stroke-width="1.4"/>
<line x1="229.9" y1="1054.0" x2="241.9" y2="1054.0" stroke="#4c4c58" stroke-width="1.4"/>
<line x1="252.4" y1="1008.3" x2="252.4" y2="1059.1" stroke="#4c4c58" stroke-width="1.4"/>
<line x1="246.4" y1="1008.3" x2="258.4" y2="1008.3" stroke="#4c4c58" stroke-width="1.4"/>
<line x1="246.4" y1="1059.1" x2="258.4" y2="1059.1" stroke="#4c4c58" stroke-width="1.4"/>
<line x1="296.3" y1="906.2" x2="296.3" y2="946.8" stroke="#4c4c58" stroke-width="1.4"/>
<line x1="290.3" y1="906.2" x2="302.3" y2="906.2" stroke="#4c4c58" stroke-width="1.4"/>
<line x1="290.3" y1="946.8" x2="302.3" y2="946.8" stroke="#4c4c58" stroke-width="1.4"/>
<line x1="315.5" y1="913.8" x2="315.5" y2="980.2" stroke="#4c4c58" stroke-width="1.4"/>
<line x1="309.5" y1="913.8" x2="321.5" y2="913.8" stroke="#4c4c58" stroke-width="1.4"/>
<line x1="309.5" y1="980.2" x2="321.5" y2="980.2" stroke="#4c4c58" stroke-width="1.4"/>
<line x1="331.9" y1="880.6" x2="331.9" y2="1017.2" stroke="#4c4c58" stroke-width="1.4"/>
<line x1="325.9" y1="880.6" x2="337.9" y2="880.6" stroke="#4c4c58" stroke-width="1.4"/>
<line x1="325.9" y1="1017.2" x2="337.9" y2="1017.2" stroke="#4c4c58" stroke-width="1.4"/>
<line x1="353.9" y1="919.9" x2="353.9" y2="994.7" stroke="#4c4c58" stroke-width="1.4"/>
<line x1="347.9" y1="919.9" x2="359.9" y2="919.9" stroke="#4c4c58" stroke-width="1.4"/>
<line x1="347.9" y1="994.7" x2="359.9" y2="994.7" stroke="#4c4c58" stroke-width="1.4"/>
<line x1="370.3" y1="926.0" x2="370.3" y2="1013.7" stroke="#4c4c58" stroke-width="1.4"/>
<line x1="364.3" y1="926.0" x2="376.3" y2="926.0" stroke="#4c4c58" stroke-width="1.4"/>
<line x1="364.3" y1="1013.7" x2="376.3" y2="1013.7" stroke="#4c4c58" stroke-width="1.4"/>
<line x1="408.7" y1="946.6" x2="408.7" y2="1059.2" stroke="#4c4c58" stroke-width="1.4"/>
<line x1="402.7" y1="946.6" x2="414.7" y2="946.6" stroke="#4c4c58" stroke-width="1.4"/>
<line x1="402.7" y1="1059.2" x2="414.7" y2="1059.2" stroke="#4c4c58" stroke-width="1.4"/>
<line x1="447.1" y1="979.9" x2="447.1" y2="1042.7" stroke="#4c4c58" stroke-width="1.4"/>
<line x1="441.1" y1="979.9" x2="453.1" y2="979.9" stroke="#4c4c58" stroke-width="1.4"/>
<line x1="441.1" y1="1042.7" x2="453.1" y2="1042.7" stroke="#4c4c58" stroke-width="1.4"/>
<line x1="488.3" y1="978.8" x2="488.3" y2="1020.4" stroke="#4c4c58" stroke-width="1.4"/>
<line x1="482.3" y1="978.8" x2="494.3" y2="978.8" stroke="#4c4c58" stroke-width="1.4"/>
<line x1="482.3" y1="1020.4" x2="494.3" y2="1020.4" stroke="#4c4c58" stroke-width="1.4"/>
<line x1="523.9" y1="978.6" x2="523.9" y2="1061.6" stroke="#4c4c58" stroke-width="1.4"/>
<line x1="517.9" y1="978.6" x2="529.9" y2="978.6" stroke="#4c4c58" stroke-width="1.4"/>
<line x1="517.9" y1="1061.6" x2="529.9" y2="1061.6" stroke="#4c4c58" stroke-width="1.4"/>
<line x1="573.3" y1="1001.3" x2="573.3" y2="1044.7" stroke="#4c4c58" stroke-width="1.4"/>
<line x1="567.3" y1="1001.3" x2="579.3" y2="1001.3" stroke="#4c4c58" stroke-width="1.4"/>
<line x1="567.3" y1="1044.7" x2="579.3" y2="1044.7" stroke="#4c4c58" stroke-width="1.4"/>
<line x1="628.2" y1="1044.2" x2="628.2" y2="1071.9" stroke="#4c4c58" stroke-width="1.4"/>
<line x1="622.2" y1="1044.2" x2="634.2" y2="1044.2" stroke="#4c4c58" stroke-width="1.4"/>
<line x1="622.2" y1="1071.9" x2="634.2" y2="1071.9" stroke="#4c4c58" stroke-width="1.4"/>
<line x1="663.8" y1="1031.7" x2="663.8" y2="1068.6" stroke="#4c4c58" stroke-width="1.4"/>
<line x1="657.8" y1="1031.7" x2="669.8" y2="1031.7" stroke="#4c4c58" stroke-width="1.4"/>
<line x1="657.8" y1="1068.6" x2="669.8" y2="1068.6" stroke="#4c4c58" stroke-width="1.4"/>
<line x1="674.8" y1="1018.8" x2="674.8" y2="1060.3" stroke="#4c4c58" stroke-width="1.4"/>
<line x1="668.8" y1="1018.8" x2="680.8" y2="1018.8" stroke="#4c4c58" stroke-width="1.4"/>
<line x1="668.8" y1="1060.3" x2="680.8" y2="1060.3" stroke="#4c4c58" stroke-width="1.4"/>
<line x1="683.0" y1="1037.5" x2="683.0" y2="1083.7" stroke="#4c4c58" stroke-width="1.4"/>
<line x1="677.0" y1="1037.5" x2="689.0" y2="1037.5" stroke="#4c4c58" stroke-width="1.4"/>
<line x1="677.0" y1="1083.7" x2="689.0" y2="1083.7" stroke="#4c4c58" stroke-width="1.4"/>
<line x1="696.7" y1="963.5" x2="696.7" y2="1018.9" stroke="#4c4c58" stroke-width="1.4"/>
<line x1="690.7" y1="963.5" x2="702.7" y2="963.5" stroke="#4c4c58" stroke-width="1.4"/>
<line x1="690.7" y1="1018.9" x2="702.7" y2="1018.9" stroke="#4c4c58" stroke-width="1.4"/>
<line x1="715.9" y1="953.5" x2="715.9" y2="1023.7" stroke="#4c4c58" stroke-width="1.4"/>
<line x1="709.9" y1="953.5" x2="721.9" y2="953.5" stroke="#4c4c58" stroke-width="1.4"/>
<line x1="709.9" y1="1023.7" x2="721.9" y2="1023.7" stroke="#4c4c58" stroke-width="1.4"/>
<line x1="737.9" y1="952.6" x2="737.9" y2="987.6" stroke="#4c4c58" stroke-width="1.4"/>
<line x1="731.9" y1="952.6" x2="743.9" y2="952.6" stroke="#4c4c58" stroke-width="1.4"/>
<line x1="731.9" y1="987.6" x2="743.9" y2="987.6" stroke="#4c4c58" stroke-width="1.4"/>
<polyline points="82.3,1048.8 90.5,1048.8 101.5,1048.8 120.7,1025.3 142.6,1030.8 159.1,1052.7 178.3,1048.8 197.5,1046.5 216.7,1036.3 235.9,1032.8 252.4,1033.7 296.3,926.5 315.5,947.0 331.9,948.9 353.9,957.3 370.3,969.9 408.7,1002.9 447.1,1011.3 488.3,999.6 523.9,1020.1 573.3,1023.0 628.2,1058.0 663.8,1050.2 674.8,1039.6 683.0,1060.6 696.7,991.2 715.9,988.6 737.9,970.1" fill="none" stroke="#0000e6" stroke-width="4.2" stroke-linejoin="round"/>
<rect x="76.8" y="1043.3" width="11" height="11" fill="#0000e6"/>
<rect x="85.0" y="1043.3" width="11" height="11" fill="#0000e6"/>
<rect x="96.0" y="1043.3" width="11" height="11" fill="#0000e6"/>
<rect x="115.2" y="1019.8" width="11" height="11" fill="#0000e6"/>
<rect x="137.1" y="1025.3" width="11" height="11" fill="#0000e6"/>
<rect x="153.6" y="1047.2" width="11" height="11" fill="#0000e6"/>
<rect x="172.8" y="1043.3" width="11" height="11" fill="#0000e6"/>
<rect x="192.0" y="1041.0" width="11" height="11" fill="#0000e6"/>
<rect x="211.2" y="1030.8" width="11" height="11" fill="#0000e6"/>
<rect x="230.4" y="1027.3" width="11" height="11" fill="#0000e6"/>
<rect x="246.9" y="1028.2" width="11" height="11" fill="#0000e6"/>
<rect x="290.8" y="921.0" width="11" height="11" fill="#0000e6"/>
<rect x="310.0" y="941.5" width="11" height="11" fill="#0000e6"/>
<rect x="326.4" y="943.4" width="11" height="11" fill="#0000e6"/>
<rect x="348.4" y="951.8" width="11" height="11" fill="#0000e6"/>
<rect x="364.8" y="964.4" width="11" height="11" fill="#0000e6"/>
<rect x="403.2" y="997.4" width="11" height="11" fill="#0000e6"/>
<rect x="441.6" y="1005.8" width="11" height="11" fill="#0000e6"/>
<rect x="482.8" y="994.1" width="11" height="11" fill="#0000e6"/>
<rect x="518.4" y="1014.6" width="11" height="11" fill="#0000e6"/>
<rect x="567.8" y="1017.5" width="11" height="11" fill="#0000e6"/>
<rect x="622.7" y="1052.5" width="11" height="11" fill="#0000e6"/>
<rect x="658.3" y="1044.7" width="11" height="11" fill="#0000e6"/>
<rect x="669.3" y="1034.1" width="11" height="11" fill="#0000e6"/>
<rect x="677.5" y="1055.1" width="11" height="11" fill="#0000e6"/>
<rect x="691.2" y="985.7" width="11" height="11" fill="#0000e6"/>
<rect x="710.4" y="983.1" width="11" height="11" fill="#0000e6"/>
<rect x="732.4" y="964.6" width="11" height="11" fill="#0000e6"/>
<line x1="82.3" y1="985.8" x2="82.3" y2="1032.0" stroke="#4c4c58" stroke-width="1.4"/>
<line x1="76.3" y1="985.8" x2="88.3" y2="985.8" stroke="#4c4c58" stroke-width="1.4"/>
<line x1="76.3" y1="1032.0" x2="88.3" y2="1032.0" stroke="#4c4c58" stroke-width="1.4"/>
<line x1="90.5" y1="993.4" x2="90.5" y2="1047.9" stroke="#4c4c58" stroke-width="1.4"/>
<line x1="84.5" y1="993.4" x2="96.5" y2="993.4" stroke="#4c4c58" stroke-width="1.4"/>
<line x1="84.5" y1="1047.9" x2="96.5" y2="1047.9" stroke="#4c4c58" stroke-width="1.4"/>
<line x1="101.5" y1="996.2" x2="101.5" y2="1047.0" stroke="#4c4c58" stroke-width="1.4"/>
<line x1="95.5" y1="996.2" x2="107.5" y2="996.2" stroke="#4c4c58" stroke-width="1.4"/>
<line x1="95.5" y1="1047.0" x2="107.5" y2="1047.0" stroke="#4c4c58" stroke-width="1.4"/>
<line x1="120.7" y1="1015.6" x2="120.7" y2="1052.5" stroke="#4c4c58" stroke-width="1.4"/>
<line x1="114.7" y1="1015.6" x2="126.7" y2="1015.6" stroke="#4c4c58" stroke-width="1.4"/>
<line x1="114.7" y1="1052.5" x2="126.7" y2="1052.5" stroke="#4c4c58" stroke-width="1.4"/>
<line x1="142.6" y1="1026.2" x2="142.6" y2="1053.9" stroke="#4c4c58" stroke-width="1.4"/>
<line x1="136.6" y1="1026.2" x2="148.6" y2="1026.2" stroke="#4c4c58" stroke-width="1.4"/>
<line x1="136.6" y1="1053.9" x2="148.6" y2="1053.9" stroke="#4c4c58" stroke-width="1.4"/>
<line x1="159.1" y1="991.6" x2="159.1" y2="1040.5" stroke="#4c4c58" stroke-width="1.4"/>
<line x1="153.1" y1="991.6" x2="165.1" y2="991.6" stroke="#4c4c58" stroke-width="1.4"/>
<line x1="153.1" y1="1040.5" x2="165.1" y2="1040.5" stroke="#4c4c58" stroke-width="1.4"/>
<line x1="178.3" y1="1043.3" x2="178.3" y2="1084.8" stroke="#4c4c58" stroke-width="1.4"/>
<line x1="172.3" y1="1043.3" x2="184.3" y2="1043.3" stroke="#4c4c58" stroke-width="1.4"/>
<line x1="172.3" y1="1084.8" x2="184.3" y2="1084.8" stroke="#4c4c58" stroke-width="1.4"/>
<line x1="197.5" y1="1031.3" x2="197.5" y2="1063.6" stroke="#4c4c58" stroke-width="1.4"/>
<line x1="191.5" y1="1031.3" x2="203.5" y2="1031.3" stroke="#4c4c58" stroke-width="1.4"/>
<line x1="191.5" y1="1063.6" x2="203.5" y2="1063.6" stroke="#4c4c58" stroke-width="1.4"/>
<line x1="216.7" y1="1040.5" x2="216.7" y2="1068.2" stroke="#4c4c58" stroke-width="1.4"/>
<line x1="210.7" y1="1040.5" x2="222.7" y2="1040.5" stroke="#4c4c58" stroke-width="1.4"/>
<line x1="210.7" y1="1068.2" x2="222.7" y2="1068.2" stroke="#4c4c58" stroke-width="1.4"/>
<line x1="235.9" y1="1038.5" x2="235.9" y2="1066.1" stroke="#4c4c58" stroke-width="1.4"/>
<line x1="229.9" y1="1038.5" x2="241.9" y2="1038.5" stroke="#4c4c58" stroke-width="1.4"/>
<line x1="229.9" y1="1066.1" x2="241.9" y2="1066.1" stroke="#4c4c58" stroke-width="1.4"/>
<line x1="252.4" y1="1040.4" x2="252.4" y2="1068.0" stroke="#4c4c58" stroke-width="1.4"/>
<line x1="246.4" y1="1040.4" x2="258.4" y2="1040.4" stroke="#4c4c58" stroke-width="1.4"/>
<line x1="246.4" y1="1068.0" x2="258.4" y2="1068.0" stroke="#4c4c58" stroke-width="1.4"/>
<line x1="296.3" y1="1023.9" x2="296.3" y2="1051.6" stroke="#4c4c58" stroke-width="1.4"/>
<line x1="290.3" y1="1023.9" x2="302.3" y2="1023.9" stroke="#4c4c58" stroke-width="1.4"/>
<line x1="290.3" y1="1051.6" x2="302.3" y2="1051.6" stroke="#4c4c58" stroke-width="1.4"/>
<line x1="315.5" y1="1054.3" x2="315.5" y2="1077.4" stroke="#4c4c58" stroke-width="1.4"/>
<line x1="309.5" y1="1054.3" x2="321.5" y2="1054.3" stroke="#4c4c58" stroke-width="1.4"/>
<line x1="309.5" y1="1077.4" x2="321.5" y2="1077.4" stroke="#4c4c58" stroke-width="1.4"/>
<line x1="331.9" y1="1045.6" x2="331.9" y2="1068.6" stroke="#4c4c58" stroke-width="1.4"/>
<line x1="325.9" y1="1045.6" x2="337.9" y2="1045.6" stroke="#4c4c58" stroke-width="1.4"/>
<line x1="325.9" y1="1068.6" x2="337.9" y2="1068.6" stroke="#4c4c58" stroke-width="1.4"/>
<line x1="353.9" y1="1049.4" x2="353.9" y2="1072.5" stroke="#4c4c58" stroke-width="1.4"/>
<line x1="347.9" y1="1049.4" x2="359.9" y2="1049.4" stroke="#4c4c58" stroke-width="1.4"/>
<line x1="347.9" y1="1072.5" x2="359.9" y2="1072.5" stroke="#4c4c58" stroke-width="1.4"/>
<line x1="370.3" y1="1052.5" x2="370.3" y2="1075.6" stroke="#4c4c58" stroke-width="1.4"/>
<line x1="364.3" y1="1052.5" x2="376.3" y2="1052.5" stroke="#4c4c58" stroke-width="1.4"/>
<line x1="364.3" y1="1075.6" x2="376.3" y2="1075.6" stroke="#4c4c58" stroke-width="1.4"/>
<line x1="408.7" y1="1053.5" x2="408.7" y2="1071.9" stroke="#4c4c58" stroke-width="1.4"/>
<line x1="402.7" y1="1053.5" x2="414.7" y2="1053.5" stroke="#4c4c58" stroke-width="1.4"/>
<line x1="402.7" y1="1071.9" x2="414.7" y2="1071.9" stroke="#4c4c58" stroke-width="1.4"/>
<line x1="447.1" y1="1038.3" x2="447.1" y2="1061.4" stroke="#4c4c58" stroke-width="1.4"/>
<line x1="441.1" y1="1038.3" x2="453.1" y2="1038.3" stroke="#4c4c58" stroke-width="1.4"/>
<line x1="441.1" y1="1061.4" x2="453.1" y2="1061.4" stroke="#4c4c58" stroke-width="1.4"/>
<line x1="488.3" y1="1040.8" x2="488.3" y2="1063.8" stroke="#4c4c58" stroke-width="1.4"/>
<line x1="482.3" y1="1040.8" x2="494.3" y2="1040.8" stroke="#4c4c58" stroke-width="1.4"/>
<line x1="482.3" y1="1063.8" x2="494.3" y2="1063.8" stroke="#4c4c58" stroke-width="1.4"/>
<line x1="523.9" y1="1025.7" x2="523.9" y2="1053.4" stroke="#4c4c58" stroke-width="1.4"/>
<line x1="517.9" y1="1025.7" x2="529.9" y2="1025.7" stroke="#4c4c58" stroke-width="1.4"/>
<line x1="517.9" y1="1053.4" x2="529.9" y2="1053.4" stroke="#4c4c58" stroke-width="1.4"/>
<line x1="573.3" y1="1048.0" x2="573.3" y2="1066.4" stroke="#4c4c58" stroke-width="1.4"/>
<line x1="567.3" y1="1048.0" x2="579.3" y2="1048.0" stroke="#4c4c58" stroke-width="1.4"/>
<line x1="567.3" y1="1066.4" x2="579.3" y2="1066.4" stroke="#4c4c58" stroke-width="1.4"/>
<line x1="628.2" y1="1037.4" x2="628.2" y2="1055.8" stroke="#4c4c58" stroke-width="1.4"/>
<line x1="622.2" y1="1037.4" x2="634.2" y2="1037.4" stroke="#4c4c58" stroke-width="1.4"/>
<line x1="622.2" y1="1055.8" x2="634.2" y2="1055.8" stroke="#4c4c58" stroke-width="1.4"/>
<line x1="663.8" y1="1059.4" x2="663.8" y2="1077.9" stroke="#4c4c58" stroke-width="1.4"/>
<line x1="657.8" y1="1059.4" x2="669.8" y2="1059.4" stroke="#4c4c58" stroke-width="1.4"/>
<line x1="657.8" y1="1077.9" x2="669.8" y2="1077.9" stroke="#4c4c58" stroke-width="1.4"/>
<line x1="674.8" y1="1037.3" x2="674.8" y2="1055.7" stroke="#4c4c58" stroke-width="1.4"/>
<line x1="668.8" y1="1037.3" x2="680.8" y2="1037.3" stroke="#4c4c58" stroke-width="1.4"/>
<line x1="668.8" y1="1055.7" x2="680.8" y2="1055.7" stroke="#4c4c58" stroke-width="1.4"/>
<line x1="683.0" y1="1040.0" x2="683.0" y2="1058.5" stroke="#4c4c58" stroke-width="1.4"/>
<line x1="677.0" y1="1040.0" x2="689.0" y2="1040.0" stroke="#4c4c58" stroke-width="1.4"/>
<line x1="677.0" y1="1058.5" x2="689.0" y2="1058.5" stroke="#4c4c58" stroke-width="1.4"/>
<line x1="696.7" y1="1041.9" x2="696.7" y2="1060.3" stroke="#4c4c58" stroke-width="1.4"/>
<line x1="690.7" y1="1041.9" x2="702.7" y2="1041.9" stroke="#4c4c58" stroke-width="1.4"/>
<line x1="690.7" y1="1060.3" x2="702.7" y2="1060.3" stroke="#4c4c58" stroke-width="1.4"/>
<line x1="715.9" y1="1023.0" x2="715.9" y2="1046.0" stroke="#4c4c58" stroke-width="1.4"/>
<line x1="709.9" y1="1023.0" x2="721.9" y2="1023.0" stroke="#4c4c58" stroke-width="1.4"/>
<line x1="709.9" y1="1046.0" x2="721.9" y2="1046.0" stroke="#4c4c58" stroke-width="1.4"/>
<line x1="737.9" y1="1020.6" x2="737.9" y2="1039.1" stroke="#4c4c58" stroke-width="1.4"/>
<line x1="731.9" y1="1020.6" x2="743.9" y2="1020.6" stroke="#4c4c58" stroke-width="1.4"/>
<line x1="731.9" y1="1039.1" x2="743.9" y2="1039.1" stroke="#4c4c58" stroke-width="1.4"/>
<polyline points="82.3,1008.9 90.5,1020.6 101.5,1021.6 120.7,1034.0 142.6,1040.0 159.1,1016.0 178.3,1064.0 197.5,1047.4 216.7,1054.3 235.9,1052.3 252.4,1054.2 296.3,1037.7 315.5,1065.9 331.9,1057.1 353.9,1061.0 370.3,1064.0 408.7,1062.7 447.1,1049.8 488.3,1052.3 523.9,1039.6 573.3,1057.2 628.2,1046.6 663.8,1068.6 674.8,1046.5 683.0,1049.3 696.7,1051.1 715.9,1034.5 737.9,1029.9" fill="none" stroke="#96c8f5" stroke-width="4" stroke-linejoin="round"/>
<rect x="76.7" y="1003.3" width="11.2" height="11.2" fill="none" stroke="#96c8f5" stroke-width="2.3"/>
<rect x="84.9" y="1015.0" width="11.2" height="11.2" fill="none" stroke="#96c8f5" stroke-width="2.3"/>
<rect x="95.9" y="1016.0" width="11.2" height="11.2" fill="none" stroke="#96c8f5" stroke-width="2.3"/>
<rect x="115.1" y="1028.4" width="11.2" height="11.2" fill="none" stroke="#96c8f5" stroke-width="2.3"/>
<rect x="137.0" y="1034.4" width="11.2" height="11.2" fill="none" stroke="#96c8f5" stroke-width="2.3"/>
<rect x="153.5" y="1010.4" width="11.2" height="11.2" fill="none" stroke="#96c8f5" stroke-width="2.3"/>
<rect x="172.7" y="1058.4" width="11.2" height="11.2" fill="none" stroke="#96c8f5" stroke-width="2.3"/>
<rect x="191.9" y="1041.8" width="11.2" height="11.2" fill="none" stroke="#96c8f5" stroke-width="2.3"/>
<rect x="211.1" y="1048.7" width="11.2" height="11.2" fill="none" stroke="#96c8f5" stroke-width="2.3"/>
<rect x="230.3" y="1046.7" width="11.2" height="11.2" fill="none" stroke="#96c8f5" stroke-width="2.3"/>
<rect x="246.8" y="1048.6" width="11.2" height="11.2" fill="none" stroke="#96c8f5" stroke-width="2.3"/>
<rect x="290.7" y="1032.1" width="11.2" height="11.2" fill="none" stroke="#96c8f5" stroke-width="2.3"/>
<rect x="309.9" y="1060.3" width="11.2" height="11.2" fill="none" stroke="#96c8f5" stroke-width="2.3"/>
<rect x="326.3" y="1051.5" width="11.2" height="11.2" fill="none" stroke="#96c8f5" stroke-width="2.3"/>
<rect x="348.3" y="1055.4" width="11.2" height="11.2" fill="none" stroke="#96c8f5" stroke-width="2.3"/>
<rect x="364.7" y="1058.4" width="11.2" height="11.2" fill="none" stroke="#96c8f5" stroke-width="2.3"/>
<rect x="403.1" y="1057.1" width="11.2" height="11.2" fill="none" stroke="#96c8f5" stroke-width="2.3"/>
<rect x="441.5" y="1044.2" width="11.2" height="11.2" fill="none" stroke="#96c8f5" stroke-width="2.3"/>
<rect x="482.7" y="1046.7" width="11.2" height="11.2" fill="none" stroke="#96c8f5" stroke-width="2.3"/>
<rect x="518.3" y="1034.0" width="11.2" height="11.2" fill="none" stroke="#96c8f5" stroke-width="2.3"/>
<rect x="567.7" y="1051.6" width="11.2" height="11.2" fill="none" stroke="#96c8f5" stroke-width="2.3"/>
<rect x="622.6" y="1041.0" width="11.2" height="11.2" fill="none" stroke="#96c8f5" stroke-width="2.3"/>
<rect x="658.2" y="1063.0" width="11.2" height="11.2" fill="none" stroke="#96c8f5" stroke-width="2.3"/>
<rect x="669.2" y="1040.9" width="11.2" height="11.2" fill="none" stroke="#96c8f5" stroke-width="2.3"/>
<rect x="677.4" y="1043.7" width="11.2" height="11.2" fill="none" stroke="#96c8f5" stroke-width="2.3"/>
<rect x="691.1" y="1045.5" width="11.2" height="11.2" fill="none" stroke="#96c8f5" stroke-width="2.3"/>
<rect x="710.3" y="1028.9" width="11.2" height="11.2" fill="none" stroke="#96c8f5" stroke-width="2.3"/>
<rect x="732.3" y="1024.3" width="11.2" height="11.2" fill="none" stroke="#96c8f5" stroke-width="2.3"/>
<line x1="82.4" y1="602.2" x2="82.4" y2="1112" stroke="#111" stroke-width="2.2"/>
<line x1="76" y1="1111.1" x2="739" y2="1111.1" stroke="#111" stroke-width="2.3"/>
<rect x="760" y="11.6" width="256.6" height="1206" fill="none" stroke="#000" stroke-width="5"/>
<rect x="778.5" y="62.7" width="19.5" height="19.5" fill="#dfdffe" stroke="#777" stroke-width="1.3"/>
<text x="814.6" y="78.4" font-size="25" font-family="Liberation Serif" font-weight="bold" fill="#1a1a1a" text-anchor="start">time of phage</text>
<text x="814.6" y="108.9" font-size="25" font-family="Liberation Serif" font-weight="bold" fill="#1a1a1a" text-anchor="start">treatment</text>
<text x="888.2" y="183.3" font-size="28.4" font-family="Liberation Serif" font-weight="bold" fill="#1a1a1a" text-anchor="middle">Phages in feces</text>
<line x1="771.6" y1="227" x2="801" y2="227" stroke="#f00" stroke-width="5"/>
<path d="M786.6,218.3 L795.3,235.9 L778,235.9 Z" fill="#f00" stroke="#f00" stroke-width="0.8" stroke-linejoin="round"/>
<rect x="783.5" y="230" width="5.9" height="2.7" fill="#fff"/>
<text x="812" y="235.5" font-size="25" font-family="Liberation Serif" font-weight="bold" fill="#1a1a1a" text-anchor="start">T4 phage in feces</text>
<text x="812" y="265.5" font-size="25" font-family="Liberation Serif" font-weight="bold" fill="#1a1a1a" text-anchor="start">control mice</text>
<line x1="769.6" y1="307.2" x2="799.1" y2="307.2" stroke="#0000c8" stroke-width="4.2"/>
<circle cx="784.5" cy="307.3" r="6.7" fill="#0000c8"/>
<text x="810.8" y="311.7" font-size="25" font-family="Liberation Serif" font-weight="bold" fill="#1a1a1a" text-anchor="start">T4 phage in feces</text>
<text x="810.8" y="340.9" font-size="25" font-family="Liberation Serif" font-weight="bold" fill="#1a1a1a" text-anchor="start">T4 treated mice</text>
<text x="883.3" y="398.6" font-size="28.6" font-family="Liberation Serif" font-weight="bold" fill="#1a1a1a" text-anchor="middle">Phage-resistant</text>
<text x="883.8" y="432.4" font-size="28.6" font-family="Liberation Serif" font-weight="bold" fill="#1a1a1a" text-anchor="middle">bacteria in feces</text>
<rect x="775.8" y="473.3" width="21" height="21" fill="url(#mott)"/>
<rect x="780.9" y="478.6" width="10.4" height="10" fill="#dce8f8"/><path d="M782,483 l4,-2 l3,1 M783,486 l5,-2" stroke="#8896aa" stroke-width="0.8" fill="none"/>
<text x="810.8" y="493.3" font-size="25" font-family="Liberation Serif" font-weight="bold" fill="#1a1a1a" text-anchor="start">&lt;20% of phage</text>
<text x="812" y="524.3" font-size="25" font-family="Liberation Serif" font-weight="bold" fill="#1a1a1a">resistant <tspan font-style="italic">E. coli</tspan></text>
<rect x="776" y="562.4" width="15.8" height="15.5" fill="#0a3cc4" stroke="#000" stroke-width="5.4"/>
<text x="809.5" y="577.6" font-size="25" font-family="Liberation Serif" font-weight="bold" fill="#1a1a1a" text-anchor="start">&gt;80% of phage</text>
<text x="809.5" y="607.3" font-size="25" font-family="Liberation Serif" font-weight="bold" fill="#1a1a1a">resistant <tspan font-style="italic">E. coli</tspan></text>
<text x="888.9" y="660.6" font-size="28.6" font-family="Liberation Serif" font-weight="bold" fill="#1a1a1a" text-anchor="middle">Antibodies</text>
<text x="888.9" y="695.4" font-size="28.6" font-family="Liberation Serif" font-weight="bold" fill="#1a1a1a" text-anchor="middle">specific to T4 phage</text>
<text x="888.6" y="743.1" font-size="28.4" font-family="Liberation Serif" font-weight="bold" fill="#1a1a1a" text-anchor="middle">IgG</text>
<line x1="775.6" y1="782.6" x2="801.6" y2="782.6" stroke="#f82a28" stroke-width="4.2"/>
<circle cx="788.6" cy="782.7" r="6.9" fill="#f82a28"/>
<text x="810.8" y="790.5" font-size="25" font-family="Liberation Serif" font-weight="bold" fill="#1a1a1a" text-anchor="start">T4 treated mice</text>
<line x1="775.6" y1="817" x2="801.6" y2="817" stroke="#f68080" stroke-width="4"/>
<circle cx="788.7" cy="817.2" r="6.7" fill="none" stroke="#f68080" stroke-width="2.2"/>
<text x="810.8" y="821" font-size="25" font-family="Liberation Serif" font-weight="bold" fill="#1a1a1a" text-anchor="start">control mice</text>
<text x="888.2" y="882.4" font-size="28.4" font-family="Liberation Serif" font-weight="bold" fill="#1a1a1a" text-anchor="middle">IgM</text>
<line x1="777.4" y1="929" x2="802.9" y2="929" stroke="#048404" stroke-width="3.8"/>
<path d="M790.2,922.7 L796.8,936.5 L783.5,936.5 Z" fill="#048404"/>
<text x="813.8" y="936" font-size="25" font-family="Liberation Serif" font-weight="bold" fill="#1a1a1a" text-anchor="start">T4 treated mice</text>
<line x1="779.3" y1="964.2" x2="804.5" y2="964.2" stroke="#a8e4a0" stroke-width="3.6"/>
<path d="M791.8,956.5 L799.6,971.7 L784,971.7 Z" fill="none" stroke="#a8e4a0" stroke-width="2.1"/>
<text x="815.3" y="969.8" font-size="25" font-family="Liberation Serif" font-weight="bold" fill="#1a1a1a" text-anchor="start">control mice</text>
<text x="888.6" y="1018.1" font-size="28.4" font-family="Liberation Serif" font-weight="bold" fill="#1a1a1a" text-anchor="middle">IgA</text>
<line x1="778" y1="1063.3" x2="803.7" y2="1063.3" stroke="#0000e6" stroke-width="4"/>
<rect x="784.3" y="1056.7" width="13.6" height="13" fill="#0000e6"/>
<text x="813.3" y="1070.6" font-size="25" font-family="Liberation Serif" font-weight="bold" fill="#1a1a1a" text-anchor="start">T4 treated mice</text>
<line x1="777.1" y1="1100" x2="802.2" y2="1100" stroke="#96c8f5" stroke-width="3.7"/>
<rect x="783.3" y="1092.7" width="13.8" height="13.3" fill="none" stroke="#96c8f5" stroke-width="2"/>
<text x="812" y="1105.7" font-size="25" font-family="Liberation Serif" font-weight="bold" fill="#1a1a1a" text-anchor="start">control mice</text>
</svg>
</body></html>
